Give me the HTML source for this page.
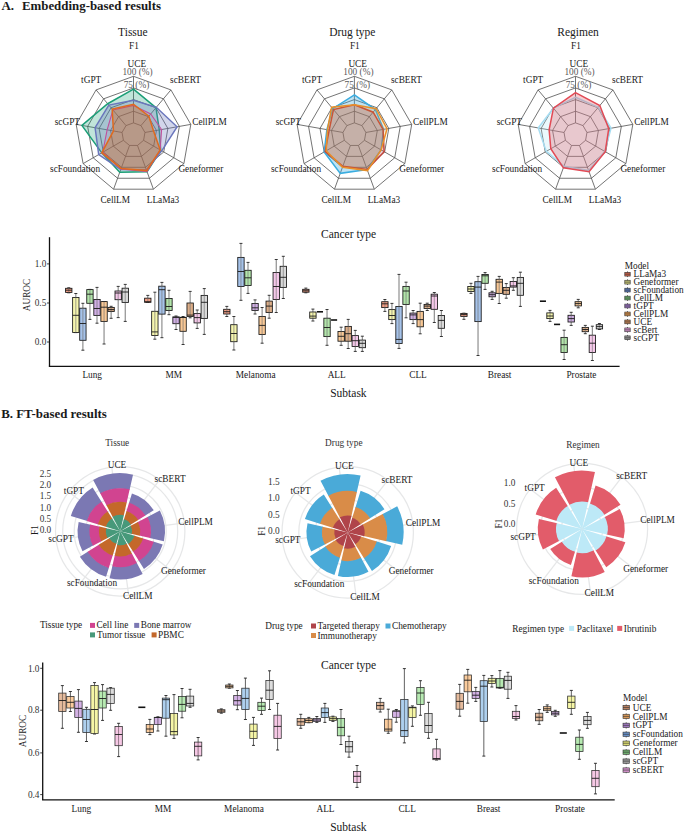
<!DOCTYPE html>
<html><head><meta charset="utf-8"><title>Figure</title>
<style>html,body{margin:0;padding:0;background:#fff;}body{width:685px;height:832px;overflow:hidden;font-family:"Liberation Serif", serif;}svg{display:block;}</style>
</head><body>
<svg width="685" height="832" viewBox="0 0 685 832" font-family='"Liberation Serif", serif'><text x="1.50" y="9.60" font-size="12.9" text-anchor="start" font-weight="bold" fill="#1a1a1a" >A.</text>
<text x="21.90" y="9.60" font-size="12.9" text-anchor="start" font-weight="bold" fill="#1a1a1a" >Embedding-based results</text>
<text x="1.20" y="418.20" font-size="12.9" text-anchor="start" font-weight="bold" fill="#1a1a1a" >B. FT-based results</text>
<text x="132.90" y="35.90" font-size="11.5" text-anchor="middle" font-weight="normal" fill="#1a1a1a" >Tissue</text>
<text x="133.90" y="49.30" font-size="9.3" text-anchor="middle" font-weight="normal" fill="#1a1a1a" >F1</text>
<g stroke="#505050" stroke-width="0.8"><polygon points="133.50,122.86 140.98,125.58 144.96,132.48 143.58,140.32 137.48,145.44 129.52,145.44 123.42,140.32 122.04,132.48 126.02,125.58" fill="none"/><polygon points="133.50,111.22 148.46,116.67 156.43,130.46 153.66,146.14 141.46,156.38 125.54,156.38 113.34,146.14 110.57,130.46 118.54,116.67" fill="none"/><polygon points="133.50,99.58 155.95,107.75 167.89,128.44 163.74,151.96 145.44,167.31 121.56,167.31 103.26,151.96 99.11,128.44 111.05,107.75" fill="none"/><polygon points="133.50,87.94 163.43,98.83 179.35,126.41 173.82,157.78 149.42,178.25 117.58,178.25 93.18,157.78 87.65,126.41 103.57,98.83" fill="none"/><polygon points="133.50,76.30 170.91,89.92 190.82,124.39 183.90,163.60 153.41,189.19 113.59,189.19 83.10,163.60 76.18,124.39 96.09,89.92" fill="none"/><line x1="133.50" y1="122.86" x2="133.50" y2="76.30"/><line x1="140.98" y1="125.58" x2="170.91" y2="89.92"/><line x1="144.96" y1="132.48" x2="190.82" y2="124.39"/><line x1="143.58" y1="140.32" x2="183.90" y2="163.60"/><line x1="137.48" y1="145.44" x2="153.41" y2="189.19"/><line x1="129.52" y1="145.44" x2="113.59" y2="189.19"/><line x1="123.42" y1="140.32" x2="83.10" y2="163.60"/><line x1="122.04" y1="132.48" x2="76.18" y2="124.39"/><line x1="126.02" y1="125.58" x2="96.09" y2="89.92"/></g>
<text x="137.50" y="74.70" font-size="9.3" text-anchor="middle" font-weight="normal" fill="#5a5a5a" >100 (%)</text>
<text x="136.50" y="87.50" font-size="9.3" text-anchor="middle" font-weight="normal" fill="#5a5a5a" >75 (%)</text>
<polygon points="133.50,89.10 155.95,107.75 159.29,129.95 160.72,150.21 147.04,171.69 119.77,172.24 101.75,152.83 81.92,125.40 107.69,103.74" fill="#1B9E77" fill-opacity="0.27" stroke="#1B9E77" stroke-width="1.5" stroke-linejoin="miter"/>
<polygon points="133.50,100.16 156.32,107.30 177.06,126.82 161.73,150.80 146.44,170.05 120.76,169.50 98.72,154.58 95.10,127.73 108.81,105.07" fill="#6A76BC" fill-opacity="0.3" stroke="#6A76BC" stroke-width="1.5" stroke-linejoin="miter"/>
<polygon points="133.50,105.40 150.71,113.99 161.58,129.55 160.21,149.92 147.04,171.69 120.96,168.95 102.75,152.25 107.13,129.85 112.92,109.98" fill="#C0509C" fill-opacity="0.12" stroke="#C0509C" stroke-width="1.1" stroke-linejoin="miter"/>
<polygon points="133.50,104.24 148.84,116.22 153.56,130.96 160.21,149.92 146.64,170.60 121.16,168.41 101.75,152.83 113.44,130.96 112.18,109.09" fill="#D95F02" fill-opacity="0.33" stroke="#DF6A1E" stroke-width="1.5" stroke-linejoin="miter"/>
<text x="136.80" y="66.50" font-size="9.3" text-anchor="middle" font-weight="normal" fill="#1a1a1a" >UCE</text>
<text x="185.50" y="82.80" font-size="9.3" text-anchor="middle" font-weight="normal" fill="#1a1a1a" >scBERT</text>
<text x="209.50" y="124.80" font-size="9.3" text-anchor="middle" font-weight="normal" fill="#1a1a1a" >CellPLM</text>
<text x="200.85" y="172.20" font-size="9.3" text-anchor="middle" font-weight="normal" fill="#1a1a1a" >Geneformer</text>
<text x="163.00" y="202.70" font-size="9.3" text-anchor="middle" font-weight="normal" fill="#1a1a1a" >LLaMa3</text>
<text x="115.30" y="202.70" font-size="9.3" text-anchor="middle" font-weight="normal" fill="#1a1a1a" >CellLM</text>
<text x="75.10" y="172.20" font-size="9.3" text-anchor="middle" font-weight="normal" fill="#1a1a1a" >scFoundation</text>
<text x="67.40" y="124.50" font-size="9.3" text-anchor="middle" font-weight="normal" fill="#1a1a1a" >scGPT</text>
<text x="91.20" y="82.90" font-size="9.3" text-anchor="middle" font-weight="normal" fill="#1a1a1a" >tGPT</text>
<text x="352.30" y="35.90" font-size="11.5" text-anchor="middle" font-weight="normal" fill="#1a1a1a" >Drug type</text>
<text x="354.80" y="49.30" font-size="9.3" text-anchor="middle" font-weight="normal" fill="#1a1a1a" >F1</text>
<g stroke="#505050" stroke-width="0.8"><polygon points="354.40,122.86 361.88,125.58 365.86,132.48 364.48,140.32 358.38,145.44 350.42,145.44 344.32,140.32 342.94,132.48 346.92,125.58" fill="none"/><polygon points="354.40,111.22 369.36,116.67 377.33,130.46 374.56,146.14 362.36,156.38 346.44,156.38 334.24,146.14 331.47,130.46 339.44,116.67" fill="none"/><polygon points="354.40,99.58 376.85,107.75 388.79,128.44 384.64,151.96 366.34,167.31 342.46,167.31 324.16,151.96 320.01,128.44 331.95,107.75" fill="none"/><polygon points="354.40,87.94 384.33,98.83 400.25,126.41 394.72,157.78 370.32,178.25 338.48,178.25 314.08,157.78 308.55,126.41 324.47,98.83" fill="none"/><polygon points="354.40,76.30 391.81,89.92 411.72,124.39 404.80,163.60 374.31,189.19 334.49,189.19 304.00,163.60 297.08,124.39 316.99,89.92" fill="none"/><line x1="354.40" y1="122.86" x2="354.40" y2="76.30"/><line x1="361.88" y1="125.58" x2="391.81" y2="89.92"/><line x1="365.86" y1="132.48" x2="411.72" y2="124.39"/><line x1="364.48" y1="140.32" x2="404.80" y2="163.60"/><line x1="358.38" y1="145.44" x2="374.31" y2="189.19"/><line x1="350.42" y1="145.44" x2="334.49" y2="189.19"/><line x1="344.32" y1="140.32" x2="304.00" y2="163.60"/><line x1="342.94" y1="132.48" x2="297.08" y2="124.39"/><line x1="346.92" y1="125.58" x2="316.99" y2="89.92"/></g>
<text x="358.40" y="74.70" font-size="9.3" text-anchor="middle" font-weight="normal" fill="#5a5a5a" >100 (%)</text>
<text x="357.40" y="87.50" font-size="9.3" text-anchor="middle" font-weight="normal" fill="#5a5a5a" >75 (%)</text>
<polygon points="354.40,94.92 375.35,109.53 383.63,129.35 381.11,149.92 367.14,169.50 340.27,173.33 324.16,151.96 326.89,129.65 332.70,108.64" fill="#3AA8DC" fill-opacity="0.33" stroke="#3AADE0" stroke-width="1.5" stroke-linejoin="miter"/>
<polygon points="354.40,104.82 373.11,112.21 383.06,129.45 384.14,151.67 367.14,169.50 342.85,166.22 325.17,151.38 329.18,130.05 333.45,109.53" fill="#B2182B" fill-opacity="0.2" stroke="#C0443A" stroke-width="1.5" stroke-linejoin="miter"/>
<polygon points="354.40,104.82 376.10,108.64 387.07,128.74 381.11,149.92 367.54,170.60 342.46,167.31 326.17,150.80 327.46,129.75 331.58,107.30" fill="#E6912E" fill-opacity="0.22" stroke="#E8902A" stroke-width="1.5" stroke-linejoin="miter"/>
<text x="357.70" y="66.50" font-size="9.3" text-anchor="middle" font-weight="normal" fill="#1a1a1a" >UCE</text>
<text x="406.40" y="82.80" font-size="9.3" text-anchor="middle" font-weight="normal" fill="#1a1a1a" >scBERT</text>
<text x="430.40" y="124.80" font-size="9.3" text-anchor="middle" font-weight="normal" fill="#1a1a1a" >CellPLM</text>
<text x="421.75" y="172.20" font-size="9.3" text-anchor="middle" font-weight="normal" fill="#1a1a1a" >Geneformer</text>
<text x="383.90" y="202.70" font-size="9.3" text-anchor="middle" font-weight="normal" fill="#1a1a1a" >LLaMa3</text>
<text x="336.20" y="202.70" font-size="9.3" text-anchor="middle" font-weight="normal" fill="#1a1a1a" >CellLM</text>
<text x="296.00" y="172.20" font-size="9.3" text-anchor="middle" font-weight="normal" fill="#1a1a1a" >scFoundation</text>
<text x="288.30" y="124.50" font-size="9.3" text-anchor="middle" font-weight="normal" fill="#1a1a1a" >scGPT</text>
<text x="312.10" y="82.90" font-size="9.3" text-anchor="middle" font-weight="normal" fill="#1a1a1a" >tGPT</text>
<text x="578.00" y="35.90" font-size="11.5" text-anchor="middle" font-weight="normal" fill="#1a1a1a" >Regimen</text>
<text x="575.90" y="49.30" font-size="9.3" text-anchor="middle" font-weight="normal" fill="#1a1a1a" >F1</text>
<g stroke="#505050" stroke-width="0.8"><polygon points="575.50,122.86 582.98,125.58 586.96,132.48 585.58,140.32 579.48,145.44 571.52,145.44 565.42,140.32 564.04,132.48 568.02,125.58" fill="none"/><polygon points="575.50,111.22 590.46,116.67 598.43,130.46 595.66,146.14 583.46,156.38 567.54,156.38 555.34,146.14 552.57,130.46 560.54,116.67" fill="none"/><polygon points="575.50,99.58 597.95,107.75 609.89,128.44 605.74,151.96 587.44,167.31 563.56,167.31 545.26,151.96 541.11,128.44 553.05,107.75" fill="none"/><polygon points="575.50,87.94 605.43,98.83 621.35,126.41 615.82,157.78 591.42,178.25 559.58,178.25 535.18,157.78 529.65,126.41 545.57,98.83" fill="none"/><polygon points="575.50,76.30 612.91,89.92 632.82,124.39 625.90,163.60 595.41,189.19 555.59,189.19 525.10,163.60 518.18,124.39 538.09,89.92" fill="none"/><line x1="575.50" y1="122.86" x2="575.50" y2="76.30"/><line x1="582.98" y1="125.58" x2="612.91" y2="89.92"/><line x1="586.96" y1="132.48" x2="632.82" y2="124.39"/><line x1="585.58" y1="140.32" x2="625.90" y2="163.60"/><line x1="579.48" y1="145.44" x2="595.41" y2="189.19"/><line x1="571.52" y1="145.44" x2="555.59" y2="189.19"/><line x1="565.42" y1="140.32" x2="525.10" y2="163.60"/><line x1="564.04" y1="132.48" x2="518.18" y2="124.39"/><line x1="568.02" y1="125.58" x2="538.09" y2="89.92"/></g>
<text x="579.50" y="74.70" font-size="9.3" text-anchor="middle" font-weight="normal" fill="#5a5a5a" >100 (%)</text>
<text x="578.50" y="87.50" font-size="9.3" text-anchor="middle" font-weight="normal" fill="#5a5a5a" >75 (%)</text>
<polygon points="575.50,97.25 598.32,107.30 611.04,128.23 604.73,151.38 588.64,170.60 563.95,166.22 546.27,151.38 538.24,127.93 553.43,108.20" fill="#A6DDF2" fill-opacity="0.22" stroke="#A6DDF2" stroke-width="1.5" stroke-linejoin="miter"/>
<polygon points="575.50,92.60 599.82,105.52 608.74,128.64 605.24,151.67 589.04,171.69 563.36,167.86 550.80,148.76 549.13,129.85 553.43,108.20" fill="#E24A55" fill-opacity="0.28" stroke="#E24A55" stroke-width="1.5" stroke-linejoin="miter"/>
<text x="578.80" y="66.50" font-size="9.3" text-anchor="middle" font-weight="normal" fill="#1a1a1a" >UCE</text>
<text x="627.50" y="82.80" font-size="9.3" text-anchor="middle" font-weight="normal" fill="#1a1a1a" >scBERT</text>
<text x="651.50" y="124.80" font-size="9.3" text-anchor="middle" font-weight="normal" fill="#1a1a1a" >CellPLM</text>
<text x="642.85" y="172.20" font-size="9.3" text-anchor="middle" font-weight="normal" fill="#1a1a1a" >Geneformer</text>
<text x="605.00" y="202.70" font-size="9.3" text-anchor="middle" font-weight="normal" fill="#1a1a1a" >LLaMa3</text>
<text x="557.30" y="202.70" font-size="9.3" text-anchor="middle" font-weight="normal" fill="#1a1a1a" >CellLM</text>
<text x="517.10" y="172.20" font-size="9.3" text-anchor="middle" font-weight="normal" fill="#1a1a1a" >scFoundation</text>
<text x="509.40" y="124.50" font-size="9.3" text-anchor="middle" font-weight="normal" fill="#1a1a1a" >scGPT</text>
<text x="533.20" y="82.90" font-size="9.3" text-anchor="middle" font-weight="normal" fill="#1a1a1a" >tGPT</text>
<line x1="49.50" y1="237.20" x2="49.50" y2="366.40" stroke="#111" stroke-width="1.3"/>
<line x1="48.85" y1="366.40" x2="619.60" y2="366.40" stroke="#111" stroke-width="1.3"/>
<line x1="47.00" y1="263.90" x2="49.50" y2="263.90" stroke="#111" stroke-width="0.8"/>
<text x="46.30" y="267.10" font-size="9.3" text-anchor="end" font-weight="normal" fill="#333" >1.0</text>
<line x1="47.00" y1="303.00" x2="49.50" y2="303.00" stroke="#111" stroke-width="0.8"/>
<text x="46.30" y="306.20" font-size="9.3" text-anchor="end" font-weight="normal" fill="#333" >0.5</text>
<line x1="47.00" y1="342.00" x2="49.50" y2="342.00" stroke="#111" stroke-width="0.8"/>
<text x="46.30" y="345.20" font-size="9.3" text-anchor="end" font-weight="normal" fill="#333" >0.0</text>
<text x="92.20" y="378.40" font-size="9.3" text-anchor="middle" font-weight="normal" fill="#1a1a1a" >Lung</text>
<text x="173.80" y="378.40" font-size="9.3" text-anchor="middle" font-weight="normal" fill="#1a1a1a" >MM</text>
<text x="255.70" y="378.40" font-size="9.3" text-anchor="middle" font-weight="normal" fill="#1a1a1a" >Melanoma</text>
<text x="336.70" y="378.40" font-size="9.3" text-anchor="middle" font-weight="normal" fill="#1a1a1a" >ALL</text>
<text x="418.00" y="378.40" font-size="9.3" text-anchor="middle" font-weight="normal" fill="#1a1a1a" >CLL</text>
<text x="499.60" y="378.40" font-size="9.3" text-anchor="middle" font-weight="normal" fill="#1a1a1a" >Breast</text>
<text x="581.40" y="378.40" font-size="9.3" text-anchor="middle" font-weight="normal" fill="#1a1a1a" >Prostate</text>
<text x="348.60" y="238.40" font-size="11.5" text-anchor="middle" font-weight="normal" fill="#1a1a1a" >Cancer type</text>
<text x="348.40" y="397.30" font-size="11.5" text-anchor="middle" font-weight="normal" fill="#1a1a1a" >Subtask</text>
<text x="30.30" y="295.00" font-size="9.3" text-anchor="middle" font-weight="normal" fill="#1a1a1a" transform="rotate(-90 30.30 295.00)">AUROC</text>
<line x1="68.76" y1="287.80" x2="68.76" y2="292.80" stroke="#858585" stroke-width="1.1"/>
<line x1="67.26" y1="287.80" x2="70.26" y2="287.80" stroke="#222" stroke-width="0.9"/>
<line x1="67.26" y1="292.80" x2="70.26" y2="292.80" stroke="#222" stroke-width="0.9"/>
<rect x="65.58" y="288.30" width="6.36" height="4.10" fill="#F08C6E" fill-opacity="0.85" stroke="#151515" stroke-width="0.85"/>
<line x1="68.76" y1="288.30" x2="68.76" y2="292.40" stroke="#858585" stroke-width="0.8800000000000001" opacity="0.75"/>
<line x1="65.58" y1="290.20" x2="71.94" y2="290.20" stroke="#1a1a1a" stroke-width="0.9"/>
<line x1="75.82" y1="293.50" x2="75.82" y2="332.60" stroke="#858585" stroke-width="1.1"/>
<line x1="74.32" y1="293.50" x2="77.32" y2="293.50" stroke="#222" stroke-width="0.9"/>
<line x1="74.32" y1="332.60" x2="77.32" y2="332.60" stroke="#222" stroke-width="0.9"/>
<rect x="72.64" y="297.50" width="6.36" height="35.00" fill="#F5F5A0" fill-opacity="0.85" stroke="#151515" stroke-width="0.85"/>
<line x1="75.82" y1="297.50" x2="75.82" y2="332.50" stroke="#858585" stroke-width="0.8800000000000001" opacity="0.75"/>
<line x1="72.64" y1="315.30" x2="79.00" y2="315.30" stroke="#1a1a1a" stroke-width="0.9"/>
<line x1="82.88" y1="303.30" x2="82.88" y2="350.20" stroke="#858585" stroke-width="1.1"/>
<line x1="81.38" y1="303.30" x2="84.38" y2="303.30" stroke="#222" stroke-width="0.9"/>
<line x1="81.38" y1="350.20" x2="84.38" y2="350.20" stroke="#222" stroke-width="0.9"/>
<rect x="79.70" y="308.20" width="6.36" height="32.10" fill="#96B9E6" fill-opacity="0.85" stroke="#151515" stroke-width="0.85"/>
<line x1="82.88" y1="308.20" x2="82.88" y2="340.30" stroke="#858585" stroke-width="0.8800000000000001" opacity="0.75"/>
<line x1="79.70" y1="323.50" x2="86.06" y2="323.50" stroke="#1a1a1a" stroke-width="0.9"/>
<line x1="89.94" y1="289.40" x2="89.94" y2="319.40" stroke="#858585" stroke-width="1.1"/>
<line x1="88.44" y1="289.40" x2="91.44" y2="289.40" stroke="#222" stroke-width="0.9"/>
<line x1="88.44" y1="319.40" x2="91.44" y2="319.40" stroke="#222" stroke-width="0.9"/>
<rect x="86.76" y="289.60" width="6.36" height="13.70" fill="#A5E19B" fill-opacity="0.85" stroke="#151515" stroke-width="0.85"/>
<line x1="89.94" y1="289.60" x2="89.94" y2="303.30" stroke="#858585" stroke-width="0.8800000000000001" opacity="0.75"/>
<line x1="86.76" y1="294.20" x2="93.12" y2="294.20" stroke="#1a1a1a" stroke-width="0.9"/>
<line x1="97.00" y1="287.40" x2="97.00" y2="323.20" stroke="#858585" stroke-width="1.1"/>
<line x1="95.50" y1="287.40" x2="98.50" y2="287.40" stroke="#222" stroke-width="0.9"/>
<line x1="95.50" y1="323.20" x2="98.50" y2="323.20" stroke="#222" stroke-width="0.9"/>
<rect x="93.82" y="299.50" width="6.36" height="15.90" fill="#C8A0E1" fill-opacity="0.85" stroke="#151515" stroke-width="0.85"/>
<line x1="97.00" y1="299.50" x2="97.00" y2="315.40" stroke="#858585" stroke-width="0.8800000000000001" opacity="0.75"/>
<line x1="93.82" y1="308.50" x2="100.18" y2="308.50" stroke="#1a1a1a" stroke-width="0.9"/>
<line x1="104.06" y1="301.50" x2="104.06" y2="344.00" stroke="#858585" stroke-width="1.1"/>
<line x1="102.56" y1="301.50" x2="105.56" y2="301.50" stroke="#222" stroke-width="0.9"/>
<line x1="102.56" y1="344.00" x2="105.56" y2="344.00" stroke="#222" stroke-width="0.9"/>
<rect x="100.88" y="301.60" width="6.36" height="19.80" fill="#F8BE82" fill-opacity="0.85" stroke="#151515" stroke-width="0.85"/>
<line x1="104.06" y1="301.60" x2="104.06" y2="321.40" stroke="#858585" stroke-width="0.8800000000000001" opacity="0.75"/>
<line x1="100.88" y1="307.20" x2="107.24" y2="307.20" stroke="#1a1a1a" stroke-width="0.9"/>
<line x1="111.12" y1="306.30" x2="111.12" y2="318.30" stroke="#858585" stroke-width="1.1"/>
<line x1="109.62" y1="306.30" x2="112.62" y2="306.30" stroke="#222" stroke-width="0.9"/>
<line x1="109.62" y1="318.30" x2="112.62" y2="318.30" stroke="#222" stroke-width="0.9"/>
<rect x="107.94" y="307.40" width="6.36" height="4.10" fill="#D7A073" fill-opacity="0.85" stroke="#151515" stroke-width="0.85"/>
<line x1="111.12" y1="307.40" x2="111.12" y2="311.50" stroke="#858585" stroke-width="0.8800000000000001" opacity="0.75"/>
<line x1="107.94" y1="309.60" x2="114.30" y2="309.60" stroke="#1a1a1a" stroke-width="0.9"/>
<line x1="118.18" y1="286.40" x2="118.18" y2="317.60" stroke="#858585" stroke-width="1.1"/>
<line x1="116.68" y1="286.40" x2="119.68" y2="286.40" stroke="#222" stroke-width="0.9"/>
<line x1="116.68" y1="317.60" x2="119.68" y2="317.60" stroke="#222" stroke-width="0.9"/>
<rect x="115.00" y="291.00" width="6.36" height="8.70" fill="#F5BEE6" fill-opacity="0.85" stroke="#151515" stroke-width="0.85"/>
<line x1="118.18" y1="291.00" x2="118.18" y2="299.70" stroke="#858585" stroke-width="0.8800000000000001" opacity="0.75"/>
<line x1="115.00" y1="293.00" x2="121.36" y2="293.00" stroke="#1a1a1a" stroke-width="0.9"/>
<line x1="125.24" y1="284.40" x2="125.24" y2="321.40" stroke="#858585" stroke-width="1.1"/>
<line x1="123.74" y1="284.40" x2="126.74" y2="284.40" stroke="#222" stroke-width="0.9"/>
<line x1="123.74" y1="321.40" x2="126.74" y2="321.40" stroke="#222" stroke-width="0.9"/>
<rect x="122.06" y="288.20" width="6.36" height="14.20" fill="#D2D2D2" fill-opacity="0.85" stroke="#151515" stroke-width="0.85"/>
<line x1="125.24" y1="288.20" x2="125.24" y2="302.40" stroke="#858585" stroke-width="0.8800000000000001" opacity="0.75"/>
<line x1="122.06" y1="292.00" x2="128.42" y2="292.00" stroke="#1a1a1a" stroke-width="0.9"/>
<line x1="147.79" y1="295.40" x2="147.79" y2="302.50" stroke="#858585" stroke-width="1.1"/>
<line x1="146.29" y1="295.40" x2="149.29" y2="295.40" stroke="#222" stroke-width="0.9"/>
<line x1="146.29" y1="302.50" x2="149.29" y2="302.50" stroke="#222" stroke-width="0.9"/>
<rect x="144.61" y="298.20" width="6.36" height="4.10" fill="#F08C6E" fill-opacity="0.85" stroke="#151515" stroke-width="0.85"/>
<line x1="147.79" y1="298.20" x2="147.79" y2="302.30" stroke="#858585" stroke-width="0.8800000000000001" opacity="0.75"/>
<line x1="144.61" y1="301.70" x2="150.97" y2="301.70" stroke="#1a1a1a" stroke-width="0.9"/>
<line x1="154.85" y1="292.20" x2="154.85" y2="339.20" stroke="#858585" stroke-width="1.1"/>
<line x1="153.35" y1="292.20" x2="156.35" y2="292.20" stroke="#222" stroke-width="0.9"/>
<line x1="153.35" y1="339.20" x2="156.35" y2="339.20" stroke="#222" stroke-width="0.9"/>
<rect x="151.67" y="311.30" width="6.36" height="24.20" fill="#F5F5A0" fill-opacity="0.85" stroke="#151515" stroke-width="0.85"/>
<line x1="154.85" y1="311.30" x2="154.85" y2="335.50" stroke="#858585" stroke-width="0.8800000000000001" opacity="0.75"/>
<line x1="151.67" y1="331.90" x2="158.03" y2="331.90" stroke="#1a1a1a" stroke-width="0.9"/>
<line x1="161.91" y1="282.40" x2="161.91" y2="337.70" stroke="#858585" stroke-width="1.1"/>
<line x1="160.41" y1="282.40" x2="163.41" y2="282.40" stroke="#222" stroke-width="0.9"/>
<line x1="160.41" y1="337.70" x2="163.41" y2="337.70" stroke="#222" stroke-width="0.9"/>
<rect x="158.73" y="286.20" width="6.36" height="27.90" fill="#96B9E6" fill-opacity="0.85" stroke="#151515" stroke-width="0.85"/>
<line x1="161.91" y1="286.20" x2="161.91" y2="314.10" stroke="#858585" stroke-width="0.8800000000000001" opacity="0.75"/>
<line x1="158.73" y1="289.70" x2="165.09" y2="289.70" stroke="#1a1a1a" stroke-width="0.9"/>
<line x1="168.97" y1="290.30" x2="168.97" y2="314.70" stroke="#858585" stroke-width="1.1"/>
<line x1="167.47" y1="290.30" x2="170.47" y2="290.30" stroke="#222" stroke-width="0.9"/>
<line x1="167.47" y1="314.70" x2="170.47" y2="314.70" stroke="#222" stroke-width="0.9"/>
<rect x="165.79" y="298.50" width="6.36" height="12.00" fill="#A5E19B" fill-opacity="0.85" stroke="#151515" stroke-width="0.85"/>
<line x1="168.97" y1="298.50" x2="168.97" y2="310.50" stroke="#858585" stroke-width="0.8800000000000001" opacity="0.75"/>
<line x1="165.79" y1="306.50" x2="172.15" y2="306.50" stroke="#1a1a1a" stroke-width="0.9"/>
<line x1="176.03" y1="316.00" x2="176.03" y2="329.50" stroke="#858585" stroke-width="1.1"/>
<line x1="174.53" y1="316.00" x2="177.53" y2="316.00" stroke="#222" stroke-width="0.9"/>
<line x1="174.53" y1="329.50" x2="177.53" y2="329.50" stroke="#222" stroke-width="0.9"/>
<rect x="172.85" y="316.90" width="6.36" height="6.80" fill="#C8A0E1" fill-opacity="0.85" stroke="#151515" stroke-width="0.85"/>
<line x1="176.03" y1="316.90" x2="176.03" y2="323.70" stroke="#858585" stroke-width="0.8800000000000001" opacity="0.75"/>
<line x1="172.85" y1="317.40" x2="179.21" y2="317.40" stroke="#1a1a1a" stroke-width="0.9"/>
<line x1="183.09" y1="316.50" x2="183.09" y2="344.50" stroke="#858585" stroke-width="1.1"/>
<line x1="181.59" y1="316.50" x2="184.59" y2="316.50" stroke="#222" stroke-width="0.9"/>
<line x1="181.59" y1="344.50" x2="184.59" y2="344.50" stroke="#222" stroke-width="0.9"/>
<rect x="179.91" y="317.40" width="6.36" height="13.90" fill="#F8BE82" fill-opacity="0.85" stroke="#151515" stroke-width="0.85"/>
<line x1="183.09" y1="317.40" x2="183.09" y2="331.30" stroke="#858585" stroke-width="0.8800000000000001" opacity="0.75"/>
<line x1="179.91" y1="317.40" x2="186.27" y2="317.40" stroke="#1a1a1a" stroke-width="0.9"/>
<line x1="190.15" y1="291.40" x2="190.15" y2="317.80" stroke="#858585" stroke-width="1.1"/>
<line x1="188.65" y1="291.40" x2="191.65" y2="291.40" stroke="#222" stroke-width="0.9"/>
<line x1="188.65" y1="317.80" x2="191.65" y2="317.80" stroke="#222" stroke-width="0.9"/>
<rect x="186.97" y="303.00" width="6.36" height="13.50" fill="#D7A073" fill-opacity="0.85" stroke="#151515" stroke-width="0.85"/>
<line x1="190.15" y1="303.00" x2="190.15" y2="316.50" stroke="#858585" stroke-width="0.8800000000000001" opacity="0.75"/>
<line x1="186.97" y1="315.10" x2="193.33" y2="315.10" stroke="#1a1a1a" stroke-width="0.9"/>
<line x1="197.21" y1="310.00" x2="197.21" y2="328.40" stroke="#858585" stroke-width="1.1"/>
<line x1="195.71" y1="310.00" x2="198.71" y2="310.00" stroke="#222" stroke-width="0.9"/>
<line x1="195.71" y1="328.40" x2="198.71" y2="328.40" stroke="#222" stroke-width="0.9"/>
<rect x="194.03" y="313.60" width="6.36" height="9.30" fill="#F5BEE6" fill-opacity="0.85" stroke="#151515" stroke-width="0.85"/>
<line x1="197.21" y1="313.60" x2="197.21" y2="322.90" stroke="#858585" stroke-width="0.8800000000000001" opacity="0.75"/>
<line x1="194.03" y1="317.60" x2="200.39" y2="317.60" stroke="#1a1a1a" stroke-width="0.9"/>
<line x1="204.27" y1="288.60" x2="204.27" y2="334.40" stroke="#858585" stroke-width="1.1"/>
<line x1="202.77" y1="288.60" x2="205.77" y2="288.60" stroke="#222" stroke-width="0.9"/>
<line x1="202.77" y1="334.40" x2="205.77" y2="334.40" stroke="#222" stroke-width="0.9"/>
<rect x="201.09" y="295.40" width="6.36" height="23.00" fill="#D2D2D2" fill-opacity="0.85" stroke="#151515" stroke-width="0.85"/>
<line x1="204.27" y1="295.40" x2="204.27" y2="318.40" stroke="#858585" stroke-width="0.8800000000000001" opacity="0.75"/>
<line x1="201.09" y1="302.30" x2="207.45" y2="302.30" stroke="#1a1a1a" stroke-width="0.9"/>
<line x1="226.82" y1="306.40" x2="226.82" y2="316.50" stroke="#858585" stroke-width="1.1"/>
<line x1="225.32" y1="306.40" x2="228.32" y2="306.40" stroke="#222" stroke-width="0.9"/>
<line x1="225.32" y1="316.50" x2="228.32" y2="316.50" stroke="#222" stroke-width="0.9"/>
<rect x="223.64" y="309.30" width="6.36" height="4.70" fill="#F08C6E" fill-opacity="0.85" stroke="#151515" stroke-width="0.85"/>
<line x1="226.82" y1="309.30" x2="226.82" y2="314.00" stroke="#858585" stroke-width="0.8800000000000001" opacity="0.75"/>
<line x1="223.64" y1="311.70" x2="230.00" y2="311.70" stroke="#1a1a1a" stroke-width="0.9"/>
<line x1="233.88" y1="316.50" x2="233.88" y2="350.00" stroke="#858585" stroke-width="1.1"/>
<line x1="232.38" y1="316.50" x2="235.38" y2="316.50" stroke="#222" stroke-width="0.9"/>
<line x1="232.38" y1="350.00" x2="235.38" y2="350.00" stroke="#222" stroke-width="0.9"/>
<rect x="230.70" y="324.70" width="6.36" height="17.00" fill="#F5F5A0" fill-opacity="0.85" stroke="#151515" stroke-width="0.85"/>
<line x1="233.88" y1="324.70" x2="233.88" y2="341.70" stroke="#858585" stroke-width="0.8800000000000001" opacity="0.75"/>
<line x1="230.70" y1="333.50" x2="237.06" y2="333.50" stroke="#1a1a1a" stroke-width="0.9"/>
<line x1="240.94" y1="243.40" x2="240.94" y2="300.30" stroke="#858585" stroke-width="1.1"/>
<line x1="239.44" y1="243.40" x2="242.44" y2="243.40" stroke="#222" stroke-width="0.9"/>
<line x1="239.44" y1="300.30" x2="242.44" y2="300.30" stroke="#222" stroke-width="0.9"/>
<rect x="237.76" y="257.40" width="6.36" height="29.10" fill="#96B9E6" fill-opacity="0.85" stroke="#151515" stroke-width="0.85"/>
<line x1="240.94" y1="257.40" x2="240.94" y2="286.50" stroke="#858585" stroke-width="0.8800000000000001" opacity="0.75"/>
<line x1="237.76" y1="271.50" x2="244.12" y2="271.50" stroke="#1a1a1a" stroke-width="0.9"/>
<line x1="248.00" y1="262.40" x2="248.00" y2="293.40" stroke="#858585" stroke-width="1.1"/>
<line x1="246.50" y1="262.40" x2="249.50" y2="262.40" stroke="#222" stroke-width="0.9"/>
<line x1="246.50" y1="293.40" x2="249.50" y2="293.40" stroke="#222" stroke-width="0.9"/>
<rect x="244.82" y="270.30" width="6.36" height="15.20" fill="#A5E19B" fill-opacity="0.85" stroke="#151515" stroke-width="0.85"/>
<line x1="248.00" y1="270.30" x2="248.00" y2="285.50" stroke="#858585" stroke-width="0.8800000000000001" opacity="0.75"/>
<line x1="244.82" y1="277.80" x2="251.18" y2="277.80" stroke="#1a1a1a" stroke-width="0.9"/>
<line x1="255.06" y1="299.90" x2="255.06" y2="314.00" stroke="#858585" stroke-width="1.1"/>
<line x1="253.56" y1="299.90" x2="256.56" y2="299.90" stroke="#222" stroke-width="0.9"/>
<line x1="253.56" y1="314.00" x2="256.56" y2="314.00" stroke="#222" stroke-width="0.9"/>
<rect x="251.88" y="303.50" width="6.36" height="6.90" fill="#C8A0E1" fill-opacity="0.85" stroke="#151515" stroke-width="0.85"/>
<line x1="255.06" y1="303.50" x2="255.06" y2="310.40" stroke="#858585" stroke-width="0.8800000000000001" opacity="0.75"/>
<line x1="251.88" y1="307.80" x2="258.24" y2="307.80" stroke="#1a1a1a" stroke-width="0.9"/>
<line x1="262.12" y1="307.50" x2="262.12" y2="343.20" stroke="#858585" stroke-width="1.1"/>
<line x1="260.62" y1="307.50" x2="263.62" y2="307.50" stroke="#222" stroke-width="0.9"/>
<line x1="260.62" y1="343.20" x2="263.62" y2="343.20" stroke="#222" stroke-width="0.9"/>
<rect x="258.94" y="316.50" width="6.36" height="18.00" fill="#F8BE82" fill-opacity="0.85" stroke="#151515" stroke-width="0.85"/>
<line x1="262.12" y1="316.50" x2="262.12" y2="334.50" stroke="#858585" stroke-width="0.8800000000000001" opacity="0.75"/>
<line x1="258.94" y1="325.40" x2="265.30" y2="325.40" stroke="#1a1a1a" stroke-width="0.9"/>
<line x1="269.18" y1="295.30" x2="269.18" y2="318.20" stroke="#858585" stroke-width="1.1"/>
<line x1="267.68" y1="295.30" x2="270.68" y2="295.30" stroke="#222" stroke-width="0.9"/>
<line x1="267.68" y1="318.20" x2="270.68" y2="318.20" stroke="#222" stroke-width="0.9"/>
<rect x="266.00" y="301.10" width="6.36" height="11.40" fill="#D7A073" fill-opacity="0.85" stroke="#151515" stroke-width="0.85"/>
<line x1="269.18" y1="301.10" x2="269.18" y2="312.50" stroke="#858585" stroke-width="0.8800000000000001" opacity="0.75"/>
<line x1="266.00" y1="306.10" x2="272.36" y2="306.10" stroke="#1a1a1a" stroke-width="0.9"/>
<line x1="276.24" y1="259.50" x2="276.24" y2="312.50" stroke="#858585" stroke-width="1.1"/>
<line x1="274.74" y1="259.50" x2="277.74" y2="259.50" stroke="#222" stroke-width="0.9"/>
<line x1="274.74" y1="312.50" x2="277.74" y2="312.50" stroke="#222" stroke-width="0.9"/>
<rect x="273.06" y="272.50" width="6.36" height="27.00" fill="#F5BEE6" fill-opacity="0.85" stroke="#151515" stroke-width="0.85"/>
<line x1="276.24" y1="272.50" x2="276.24" y2="299.50" stroke="#858585" stroke-width="0.8800000000000001" opacity="0.75"/>
<line x1="273.06" y1="286.50" x2="279.42" y2="286.50" stroke="#1a1a1a" stroke-width="0.9"/>
<line x1="283.30" y1="256.30" x2="283.30" y2="298.50" stroke="#858585" stroke-width="1.1"/>
<line x1="281.80" y1="256.30" x2="284.80" y2="256.30" stroke="#222" stroke-width="0.9"/>
<line x1="281.80" y1="298.50" x2="284.80" y2="298.50" stroke="#222" stroke-width="0.9"/>
<rect x="280.12" y="266.30" width="6.36" height="21.10" fill="#D2D2D2" fill-opacity="0.85" stroke="#151515" stroke-width="0.85"/>
<line x1="283.30" y1="266.30" x2="283.30" y2="287.40" stroke="#858585" stroke-width="0.8800000000000001" opacity="0.75"/>
<line x1="280.12" y1="277.30" x2="286.48" y2="277.30" stroke="#1a1a1a" stroke-width="0.9"/>
<line x1="305.85" y1="288.10" x2="305.85" y2="292.80" stroke="#858585" stroke-width="1.1"/>
<line x1="304.35" y1="288.10" x2="307.35" y2="288.10" stroke="#222" stroke-width="0.9"/>
<line x1="304.35" y1="292.80" x2="307.35" y2="292.80" stroke="#222" stroke-width="0.9"/>
<rect x="302.67" y="289.30" width="6.36" height="2.90" fill="#F08C6E" fill-opacity="0.85" stroke="#151515" stroke-width="0.85"/>
<line x1="305.85" y1="289.30" x2="305.85" y2="292.20" stroke="#858585" stroke-width="0.8800000000000001" opacity="0.75"/>
<line x1="302.67" y1="290.80" x2="309.03" y2="290.80" stroke="#1a1a1a" stroke-width="0.9"/>
<line x1="312.91" y1="309.10" x2="312.91" y2="321.00" stroke="#858585" stroke-width="1.1"/>
<line x1="311.41" y1="309.10" x2="314.41" y2="309.10" stroke="#222" stroke-width="0.9"/>
<line x1="311.41" y1="321.00" x2="314.41" y2="321.00" stroke="#222" stroke-width="0.9"/>
<rect x="309.73" y="312.00" width="6.36" height="6.20" fill="#F5F5A0" fill-opacity="0.85" stroke="#151515" stroke-width="0.85"/>
<line x1="312.91" y1="312.00" x2="312.91" y2="318.20" stroke="#858585" stroke-width="0.8800000000000001" opacity="0.75"/>
<line x1="309.73" y1="316.10" x2="316.09" y2="316.10" stroke="#1a1a1a" stroke-width="0.9"/>
<line x1="316.94" y1="311.80" x2="323.00" y2="311.80" stroke="#111" stroke-width="1.6"/>
<line x1="327.03" y1="309.50" x2="327.03" y2="345.30" stroke="#858585" stroke-width="1.1"/>
<line x1="325.53" y1="309.50" x2="328.53" y2="309.50" stroke="#222" stroke-width="0.9"/>
<line x1="325.53" y1="345.30" x2="328.53" y2="345.30" stroke="#222" stroke-width="0.9"/>
<rect x="323.85" y="318.20" width="6.36" height="18.40" fill="#A5E19B" fill-opacity="0.85" stroke="#151515" stroke-width="0.85"/>
<line x1="327.03" y1="318.20" x2="327.03" y2="336.60" stroke="#858585" stroke-width="0.8800000000000001" opacity="0.75"/>
<line x1="323.85" y1="327.50" x2="330.21" y2="327.50" stroke="#1a1a1a" stroke-width="0.9"/>
<line x1="331.06" y1="320.00" x2="337.12" y2="320.00" stroke="#111" stroke-width="1.6"/>
<line x1="341.15" y1="327.20" x2="341.15" y2="345.30" stroke="#858585" stroke-width="1.1"/>
<line x1="339.65" y1="327.20" x2="342.65" y2="327.20" stroke="#222" stroke-width="0.9"/>
<line x1="339.65" y1="345.30" x2="342.65" y2="345.30" stroke="#222" stroke-width="0.9"/>
<rect x="337.97" y="331.50" width="6.36" height="9.70" fill="#F8BE82" fill-opacity="0.85" stroke="#151515" stroke-width="0.85"/>
<line x1="341.15" y1="331.50" x2="341.15" y2="341.20" stroke="#858585" stroke-width="0.8800000000000001" opacity="0.75"/>
<line x1="337.97" y1="336.30" x2="344.33" y2="336.30" stroke="#1a1a1a" stroke-width="0.9"/>
<line x1="348.21" y1="319.40" x2="348.21" y2="348.50" stroke="#858585" stroke-width="1.1"/>
<line x1="346.71" y1="319.40" x2="349.71" y2="319.40" stroke="#222" stroke-width="0.9"/>
<line x1="346.71" y1="348.50" x2="349.71" y2="348.50" stroke="#222" stroke-width="0.9"/>
<rect x="345.03" y="326.40" width="6.36" height="14.80" fill="#D7A073" fill-opacity="0.85" stroke="#151515" stroke-width="0.85"/>
<line x1="348.21" y1="326.40" x2="348.21" y2="341.20" stroke="#858585" stroke-width="0.8800000000000001" opacity="0.75"/>
<line x1="345.03" y1="333.70" x2="351.39" y2="333.70" stroke="#1a1a1a" stroke-width="0.9"/>
<line x1="355.27" y1="330.40" x2="355.27" y2="351.40" stroke="#858585" stroke-width="1.1"/>
<line x1="353.77" y1="330.40" x2="356.77" y2="330.40" stroke="#222" stroke-width="0.9"/>
<line x1="353.77" y1="351.40" x2="356.77" y2="351.40" stroke="#222" stroke-width="0.9"/>
<rect x="352.09" y="335.60" width="6.36" height="10.90" fill="#F5BEE6" fill-opacity="0.85" stroke="#151515" stroke-width="0.85"/>
<line x1="355.27" y1="335.60" x2="355.27" y2="346.50" stroke="#858585" stroke-width="0.8800000000000001" opacity="0.75"/>
<line x1="352.09" y1="340.70" x2="358.45" y2="340.70" stroke="#1a1a1a" stroke-width="0.9"/>
<line x1="362.33" y1="336.20" x2="362.33" y2="351.40" stroke="#858585" stroke-width="1.1"/>
<line x1="360.83" y1="336.20" x2="363.83" y2="336.20" stroke="#222" stroke-width="0.9"/>
<line x1="360.83" y1="351.40" x2="363.83" y2="351.40" stroke="#222" stroke-width="0.9"/>
<rect x="359.15" y="340.10" width="6.36" height="7.60" fill="#D2D2D2" fill-opacity="0.85" stroke="#151515" stroke-width="0.85"/>
<line x1="362.33" y1="340.10" x2="362.33" y2="347.70" stroke="#858585" stroke-width="0.8800000000000001" opacity="0.75"/>
<line x1="359.15" y1="343.30" x2="365.51" y2="343.30" stroke="#1a1a1a" stroke-width="0.9"/>
<line x1="384.88" y1="299.50" x2="384.88" y2="311.40" stroke="#858585" stroke-width="1.1"/>
<line x1="383.38" y1="299.50" x2="386.38" y2="299.50" stroke="#222" stroke-width="0.9"/>
<line x1="383.38" y1="311.40" x2="386.38" y2="311.40" stroke="#222" stroke-width="0.9"/>
<rect x="381.70" y="301.70" width="6.36" height="5.90" fill="#F08C6E" fill-opacity="0.85" stroke="#151515" stroke-width="0.85"/>
<line x1="384.88" y1="301.70" x2="384.88" y2="307.60" stroke="#858585" stroke-width="0.8800000000000001" opacity="0.75"/>
<line x1="381.70" y1="303.80" x2="388.06" y2="303.80" stroke="#1a1a1a" stroke-width="0.9"/>
<line x1="391.94" y1="303.40" x2="391.94" y2="323.60" stroke="#858585" stroke-width="1.1"/>
<line x1="390.44" y1="303.40" x2="393.44" y2="303.40" stroke="#222" stroke-width="0.9"/>
<line x1="390.44" y1="323.60" x2="393.44" y2="323.60" stroke="#222" stroke-width="0.9"/>
<rect x="388.76" y="309.60" width="6.36" height="10.00" fill="#F5F5A0" fill-opacity="0.85" stroke="#151515" stroke-width="0.85"/>
<line x1="391.94" y1="309.60" x2="391.94" y2="319.60" stroke="#858585" stroke-width="0.8800000000000001" opacity="0.75"/>
<line x1="388.76" y1="315.50" x2="395.12" y2="315.50" stroke="#1a1a1a" stroke-width="0.9"/>
<line x1="399.00" y1="274.40" x2="399.00" y2="348.40" stroke="#858585" stroke-width="1.1"/>
<line x1="397.50" y1="274.40" x2="400.50" y2="274.40" stroke="#222" stroke-width="0.9"/>
<line x1="397.50" y1="348.40" x2="400.50" y2="348.40" stroke="#222" stroke-width="0.9"/>
<rect x="395.82" y="306.50" width="6.36" height="37.00" fill="#96B9E6" fill-opacity="0.85" stroke="#151515" stroke-width="0.85"/>
<line x1="399.00" y1="306.50" x2="399.00" y2="343.50" stroke="#858585" stroke-width="0.8800000000000001" opacity="0.75"/>
<line x1="395.82" y1="339.40" x2="402.18" y2="339.40" stroke="#1a1a1a" stroke-width="0.9"/>
<line x1="406.06" y1="282.20" x2="406.06" y2="317.80" stroke="#858585" stroke-width="1.1"/>
<line x1="404.56" y1="282.20" x2="407.56" y2="282.20" stroke="#222" stroke-width="0.9"/>
<line x1="404.56" y1="317.80" x2="407.56" y2="317.80" stroke="#222" stroke-width="0.9"/>
<rect x="402.88" y="286.40" width="6.36" height="18.00" fill="#A5E19B" fill-opacity="0.85" stroke="#151515" stroke-width="0.85"/>
<line x1="406.06" y1="286.40" x2="406.06" y2="304.40" stroke="#858585" stroke-width="0.8800000000000001" opacity="0.75"/>
<line x1="402.88" y1="291.00" x2="409.24" y2="291.00" stroke="#1a1a1a" stroke-width="0.9"/>
<line x1="413.12" y1="310.50" x2="413.12" y2="323.60" stroke="#858585" stroke-width="1.1"/>
<line x1="411.62" y1="310.50" x2="414.62" y2="310.50" stroke="#222" stroke-width="0.9"/>
<line x1="411.62" y1="323.60" x2="414.62" y2="323.60" stroke="#222" stroke-width="0.9"/>
<rect x="409.94" y="313.10" width="6.36" height="6.50" fill="#C8A0E1" fill-opacity="0.85" stroke="#151515" stroke-width="0.85"/>
<line x1="413.12" y1="313.10" x2="413.12" y2="319.60" stroke="#858585" stroke-width="0.8800000000000001" opacity="0.75"/>
<line x1="409.94" y1="314.90" x2="416.30" y2="314.90" stroke="#1a1a1a" stroke-width="0.9"/>
<line x1="420.18" y1="303.20" x2="420.18" y2="333.80" stroke="#858585" stroke-width="1.1"/>
<line x1="418.68" y1="303.20" x2="421.68" y2="303.20" stroke="#222" stroke-width="0.9"/>
<line x1="418.68" y1="333.80" x2="421.68" y2="333.80" stroke="#222" stroke-width="0.9"/>
<rect x="417.00" y="311.40" width="6.36" height="15.40" fill="#F8BE82" fill-opacity="0.85" stroke="#151515" stroke-width="0.85"/>
<line x1="420.18" y1="311.40" x2="420.18" y2="326.80" stroke="#858585" stroke-width="0.8800000000000001" opacity="0.75"/>
<line x1="417.00" y1="319.60" x2="423.36" y2="319.60" stroke="#1a1a1a" stroke-width="0.9"/>
<line x1="427.24" y1="303.20" x2="427.24" y2="310.50" stroke="#858585" stroke-width="1.1"/>
<line x1="425.74" y1="303.20" x2="428.74" y2="303.20" stroke="#222" stroke-width="0.9"/>
<line x1="425.74" y1="310.50" x2="428.74" y2="310.50" stroke="#222" stroke-width="0.9"/>
<rect x="424.06" y="304.40" width="6.36" height="4.10" fill="#D7A073" fill-opacity="0.85" stroke="#151515" stroke-width="0.85"/>
<line x1="427.24" y1="304.40" x2="427.24" y2="308.50" stroke="#858585" stroke-width="0.8800000000000001" opacity="0.75"/>
<line x1="424.06" y1="306.10" x2="430.42" y2="306.10" stroke="#1a1a1a" stroke-width="0.9"/>
<line x1="434.30" y1="292.50" x2="434.30" y2="322.50" stroke="#858585" stroke-width="1.1"/>
<line x1="432.80" y1="292.50" x2="435.80" y2="292.50" stroke="#222" stroke-width="0.9"/>
<line x1="432.80" y1="322.50" x2="435.80" y2="322.50" stroke="#222" stroke-width="0.9"/>
<rect x="431.12" y="294.20" width="6.36" height="15.10" fill="#F5BEE6" fill-opacity="0.85" stroke="#151515" stroke-width="0.85"/>
<line x1="434.30" y1="294.20" x2="434.30" y2="309.30" stroke="#858585" stroke-width="0.8800000000000001" opacity="0.75"/>
<line x1="431.12" y1="296.00" x2="437.48" y2="296.00" stroke="#1a1a1a" stroke-width="0.9"/>
<line x1="441.36" y1="310.50" x2="441.36" y2="336.50" stroke="#858585" stroke-width="1.1"/>
<line x1="439.86" y1="310.50" x2="442.86" y2="310.50" stroke="#222" stroke-width="0.9"/>
<line x1="439.86" y1="336.50" x2="442.86" y2="336.50" stroke="#222" stroke-width="0.9"/>
<rect x="438.18" y="315.50" width="6.36" height="12.80" fill="#D2D2D2" fill-opacity="0.85" stroke="#151515" stroke-width="0.85"/>
<line x1="441.36" y1="315.50" x2="441.36" y2="328.30" stroke="#858585" stroke-width="0.8800000000000001" opacity="0.75"/>
<line x1="438.18" y1="320.40" x2="444.54" y2="320.40" stroke="#1a1a1a" stroke-width="0.9"/>
<line x1="463.91" y1="313.20" x2="463.91" y2="319.30" stroke="#858585" stroke-width="1.1"/>
<line x1="462.41" y1="313.20" x2="465.41" y2="313.20" stroke="#222" stroke-width="0.9"/>
<line x1="462.41" y1="319.30" x2="465.41" y2="319.30" stroke="#222" stroke-width="0.9"/>
<rect x="460.73" y="313.40" width="6.36" height="3.00" fill="#F08C6E" fill-opacity="0.85" stroke="#151515" stroke-width="0.85"/>
<line x1="463.91" y1="313.40" x2="463.91" y2="316.40" stroke="#858585" stroke-width="0.8800000000000001" opacity="0.75"/>
<line x1="460.73" y1="314.60" x2="467.09" y2="314.60" stroke="#1a1a1a" stroke-width="0.9"/>
<line x1="470.97" y1="283.30" x2="470.97" y2="293.40" stroke="#858585" stroke-width="1.1"/>
<line x1="469.47" y1="283.30" x2="472.47" y2="283.30" stroke="#222" stroke-width="0.9"/>
<line x1="469.47" y1="293.40" x2="472.47" y2="293.40" stroke="#222" stroke-width="0.9"/>
<rect x="467.79" y="286.50" width="6.36" height="5.00" fill="#F5F5A0" fill-opacity="0.85" stroke="#151515" stroke-width="0.85"/>
<line x1="470.97" y1="286.50" x2="470.97" y2="291.50" stroke="#858585" stroke-width="0.8800000000000001" opacity="0.75"/>
<line x1="467.79" y1="289.00" x2="474.15" y2="289.00" stroke="#1a1a1a" stroke-width="0.9"/>
<line x1="478.03" y1="276.40" x2="478.03" y2="355.50" stroke="#858585" stroke-width="1.1"/>
<line x1="476.53" y1="276.40" x2="479.53" y2="276.40" stroke="#222" stroke-width="0.9"/>
<line x1="476.53" y1="355.50" x2="479.53" y2="355.50" stroke="#222" stroke-width="0.9"/>
<rect x="474.85" y="281.70" width="6.36" height="39.90" fill="#96B9E6" fill-opacity="0.85" stroke="#151515" stroke-width="0.85"/>
<line x1="478.03" y1="281.70" x2="478.03" y2="321.60" stroke="#858585" stroke-width="0.8800000000000001" opacity="0.75"/>
<line x1="474.85" y1="287.10" x2="481.21" y2="287.10" stroke="#1a1a1a" stroke-width="0.9"/>
<line x1="485.09" y1="272.60" x2="485.09" y2="289.40" stroke="#858585" stroke-width="1.1"/>
<line x1="483.59" y1="272.60" x2="486.59" y2="272.60" stroke="#222" stroke-width="0.9"/>
<line x1="483.59" y1="289.40" x2="486.59" y2="289.40" stroke="#222" stroke-width="0.9"/>
<rect x="481.91" y="274.50" width="6.36" height="8.80" fill="#A5E19B" fill-opacity="0.85" stroke="#151515" stroke-width="0.85"/>
<line x1="485.09" y1="274.50" x2="485.09" y2="283.30" stroke="#858585" stroke-width="0.8800000000000001" opacity="0.75"/>
<line x1="481.91" y1="275.80" x2="488.27" y2="275.80" stroke="#1a1a1a" stroke-width="0.9"/>
<line x1="492.15" y1="291.30" x2="492.15" y2="299.40" stroke="#858585" stroke-width="1.1"/>
<line x1="490.65" y1="291.30" x2="493.65" y2="291.30" stroke="#222" stroke-width="0.9"/>
<line x1="490.65" y1="299.40" x2="493.65" y2="299.40" stroke="#222" stroke-width="0.9"/>
<rect x="488.97" y="292.80" width="6.36" height="4.00" fill="#C8A0E1" fill-opacity="0.85" stroke="#151515" stroke-width="0.85"/>
<line x1="492.15" y1="292.80" x2="492.15" y2="296.80" stroke="#858585" stroke-width="0.8800000000000001" opacity="0.75"/>
<line x1="488.97" y1="294.70" x2="495.33" y2="294.70" stroke="#1a1a1a" stroke-width="0.9"/>
<line x1="499.21" y1="276.40" x2="499.21" y2="303.50" stroke="#858585" stroke-width="1.1"/>
<line x1="497.71" y1="276.40" x2="500.71" y2="276.40" stroke="#222" stroke-width="0.9"/>
<line x1="497.71" y1="303.50" x2="500.71" y2="303.50" stroke="#222" stroke-width="0.9"/>
<rect x="496.03" y="279.30" width="6.36" height="14.10" fill="#F8BE82" fill-opacity="0.85" stroke="#151515" stroke-width="0.85"/>
<line x1="499.21" y1="279.30" x2="499.21" y2="293.40" stroke="#858585" stroke-width="0.8800000000000001" opacity="0.75"/>
<line x1="496.03" y1="282.10" x2="502.39" y2="282.10" stroke="#1a1a1a" stroke-width="0.9"/>
<line x1="506.27" y1="283.60" x2="506.27" y2="298.20" stroke="#858585" stroke-width="1.1"/>
<line x1="504.77" y1="283.60" x2="507.77" y2="283.60" stroke="#222" stroke-width="0.9"/>
<line x1="504.77" y1="298.20" x2="507.77" y2="298.20" stroke="#222" stroke-width="0.9"/>
<rect x="503.09" y="287.50" width="6.36" height="6.80" fill="#D7A073" fill-opacity="0.85" stroke="#151515" stroke-width="0.85"/>
<line x1="506.27" y1="287.50" x2="506.27" y2="294.30" stroke="#858585" stroke-width="0.8800000000000001" opacity="0.75"/>
<line x1="503.09" y1="290.30" x2="509.45" y2="290.30" stroke="#1a1a1a" stroke-width="0.9"/>
<line x1="513.33" y1="277.70" x2="513.33" y2="290.30" stroke="#858585" stroke-width="1.1"/>
<line x1="511.83" y1="277.70" x2="514.83" y2="277.70" stroke="#222" stroke-width="0.9"/>
<line x1="511.83" y1="290.30" x2="514.83" y2="290.30" stroke="#222" stroke-width="0.9"/>
<rect x="510.15" y="281.50" width="6.36" height="5.60" fill="#F5BEE6" fill-opacity="0.85" stroke="#151515" stroke-width="0.85"/>
<line x1="513.33" y1="281.50" x2="513.33" y2="287.10" stroke="#858585" stroke-width="0.8800000000000001" opacity="0.75"/>
<line x1="510.15" y1="285.90" x2="516.51" y2="285.90" stroke="#1a1a1a" stroke-width="0.9"/>
<line x1="520.39" y1="272.20" x2="520.39" y2="306.40" stroke="#858585" stroke-width="1.1"/>
<line x1="518.89" y1="272.20" x2="521.89" y2="272.20" stroke="#222" stroke-width="0.9"/>
<line x1="518.89" y1="306.40" x2="521.89" y2="306.40" stroke="#222" stroke-width="0.9"/>
<rect x="517.21" y="277.40" width="6.36" height="17.90" fill="#D2D2D2" fill-opacity="0.85" stroke="#151515" stroke-width="0.85"/>
<line x1="520.39" y1="277.40" x2="520.39" y2="295.30" stroke="#858585" stroke-width="0.8800000000000001" opacity="0.75"/>
<line x1="517.21" y1="283.30" x2="523.57" y2="283.30" stroke="#1a1a1a" stroke-width="0.9"/>
<line x1="539.91" y1="301.20" x2="545.97" y2="301.20" stroke="#111" stroke-width="1.6"/>
<line x1="550.00" y1="310.40" x2="550.00" y2="321.40" stroke="#858585" stroke-width="1.1"/>
<line x1="548.50" y1="310.40" x2="551.50" y2="310.40" stroke="#222" stroke-width="0.9"/>
<line x1="548.50" y1="321.40" x2="551.50" y2="321.40" stroke="#222" stroke-width="0.9"/>
<rect x="546.82" y="312.90" width="6.36" height="5.70" fill="#F5F5A0" fill-opacity="0.85" stroke="#151515" stroke-width="0.85"/>
<line x1="550.00" y1="312.90" x2="550.00" y2="318.60" stroke="#858585" stroke-width="0.8800000000000001" opacity="0.75"/>
<line x1="546.82" y1="316.00" x2="553.18" y2="316.00" stroke="#1a1a1a" stroke-width="0.9"/>
<line x1="554.03" y1="324.40" x2="560.09" y2="324.40" stroke="#111" stroke-width="1.6"/>
<line x1="564.12" y1="330.20" x2="564.12" y2="359.50" stroke="#858585" stroke-width="1.1"/>
<line x1="562.62" y1="330.20" x2="565.62" y2="330.20" stroke="#222" stroke-width="0.9"/>
<line x1="562.62" y1="359.50" x2="565.62" y2="359.50" stroke="#222" stroke-width="0.9"/>
<rect x="560.94" y="337.40" width="6.36" height="15.10" fill="#A5E19B" fill-opacity="0.85" stroke="#151515" stroke-width="0.85"/>
<line x1="564.12" y1="337.40" x2="564.12" y2="352.50" stroke="#858585" stroke-width="0.8800000000000001" opacity="0.75"/>
<line x1="560.94" y1="344.70" x2="567.30" y2="344.70" stroke="#1a1a1a" stroke-width="0.9"/>
<line x1="571.18" y1="312.30" x2="571.18" y2="325.40" stroke="#858585" stroke-width="1.1"/>
<line x1="569.68" y1="312.30" x2="572.68" y2="312.30" stroke="#222" stroke-width="0.9"/>
<line x1="569.68" y1="325.40" x2="572.68" y2="325.40" stroke="#222" stroke-width="0.9"/>
<rect x="568.00" y="315.30" width="6.36" height="6.70" fill="#C8A0E1" fill-opacity="0.85" stroke="#151515" stroke-width="0.85"/>
<line x1="571.18" y1="315.30" x2="571.18" y2="322.00" stroke="#858585" stroke-width="0.8800000000000001" opacity="0.75"/>
<line x1="568.00" y1="318.60" x2="574.36" y2="318.60" stroke="#1a1a1a" stroke-width="0.9"/>
<line x1="578.24" y1="299.40" x2="578.24" y2="307.80" stroke="#858585" stroke-width="1.1"/>
<line x1="576.74" y1="299.40" x2="579.74" y2="299.40" stroke="#222" stroke-width="0.9"/>
<line x1="576.74" y1="307.80" x2="579.74" y2="307.80" stroke="#222" stroke-width="0.9"/>
<rect x="575.06" y="301.70" width="6.36" height="4.20" fill="#F8BE82" fill-opacity="0.85" stroke="#151515" stroke-width="0.85"/>
<line x1="578.24" y1="301.70" x2="578.24" y2="305.90" stroke="#858585" stroke-width="0.8800000000000001" opacity="0.75"/>
<line x1="575.06" y1="303.60" x2="581.42" y2="303.60" stroke="#1a1a1a" stroke-width="0.9"/>
<line x1="585.30" y1="325.40" x2="585.30" y2="333.70" stroke="#858585" stroke-width="1.1"/>
<line x1="583.80" y1="325.40" x2="586.80" y2="325.40" stroke="#222" stroke-width="0.9"/>
<line x1="583.80" y1="333.70" x2="586.80" y2="333.70" stroke="#222" stroke-width="0.9"/>
<rect x="582.12" y="327.40" width="6.36" height="4.30" fill="#D7A073" fill-opacity="0.85" stroke="#151515" stroke-width="0.85"/>
<line x1="585.30" y1="327.40" x2="585.30" y2="331.70" stroke="#858585" stroke-width="0.8800000000000001" opacity="0.75"/>
<line x1="582.12" y1="329.50" x2="588.48" y2="329.50" stroke="#1a1a1a" stroke-width="0.9"/>
<line x1="592.36" y1="326.20" x2="592.36" y2="360.50" stroke="#858585" stroke-width="1.1"/>
<line x1="590.86" y1="326.20" x2="593.86" y2="326.20" stroke="#222" stroke-width="0.9"/>
<line x1="590.86" y1="360.50" x2="593.86" y2="360.50" stroke="#222" stroke-width="0.9"/>
<rect x="589.18" y="335.20" width="6.36" height="17.30" fill="#F5BEE6" fill-opacity="0.85" stroke="#151515" stroke-width="0.85"/>
<line x1="592.36" y1="335.20" x2="592.36" y2="352.50" stroke="#858585" stroke-width="0.8800000000000001" opacity="0.75"/>
<line x1="589.18" y1="343.20" x2="595.54" y2="343.20" stroke="#1a1a1a" stroke-width="0.9"/>
<line x1="599.42" y1="323.50" x2="599.42" y2="329.50" stroke="#858585" stroke-width="1.1"/>
<line x1="597.92" y1="323.50" x2="600.92" y2="323.50" stroke="#222" stroke-width="0.9"/>
<line x1="597.92" y1="329.50" x2="600.92" y2="329.50" stroke="#222" stroke-width="0.9"/>
<rect x="596.24" y="324.70" width="6.36" height="4.20" fill="#D2D2D2" fill-opacity="0.85" stroke="#151515" stroke-width="0.85"/>
<line x1="599.42" y1="324.70" x2="599.42" y2="328.90" stroke="#858585" stroke-width="0.8800000000000001" opacity="0.75"/>
<line x1="596.24" y1="326.60" x2="602.60" y2="326.60" stroke="#1a1a1a" stroke-width="0.9"/>
<line x1="42.70" y1="662.50" x2="42.70" y2="799.90" stroke="#111" stroke-width="1.3"/>
<line x1="42.05" y1="799.90" x2="614.70" y2="799.90" stroke="#111" stroke-width="1.3"/>
<line x1="40.20" y1="668.30" x2="42.70" y2="668.30" stroke="#111" stroke-width="0.8"/>
<text x="39.50" y="671.50" font-size="9.3" text-anchor="end" font-weight="normal" fill="#333" >1.0</text>
<line x1="40.20" y1="710.20" x2="42.70" y2="710.20" stroke="#111" stroke-width="0.8"/>
<text x="39.50" y="713.40" font-size="9.3" text-anchor="end" font-weight="normal" fill="#333" >0.8</text>
<line x1="40.20" y1="752.90" x2="42.70" y2="752.90" stroke="#111" stroke-width="0.8"/>
<text x="39.50" y="756.10" font-size="9.3" text-anchor="end" font-weight="normal" fill="#333" >0.6</text>
<line x1="40.20" y1="794.60" x2="42.70" y2="794.60" stroke="#111" stroke-width="0.8"/>
<text x="39.50" y="797.80" font-size="9.3" text-anchor="end" font-weight="normal" fill="#333" >0.4</text>
<text x="81.40" y="812.00" font-size="9.3" text-anchor="middle" font-weight="normal" fill="#1a1a1a" >Lung</text>
<text x="163.10" y="812.00" font-size="9.3" text-anchor="middle" font-weight="normal" fill="#1a1a1a" >MM</text>
<text x="244.00" y="812.00" font-size="9.3" text-anchor="middle" font-weight="normal" fill="#1a1a1a" >Melanoma</text>
<text x="325.50" y="812.00" font-size="9.3" text-anchor="middle" font-weight="normal" fill="#1a1a1a" >ALL</text>
<text x="407.20" y="812.00" font-size="9.3" text-anchor="middle" font-weight="normal" fill="#1a1a1a" >CLL</text>
<text x="488.60" y="812.00" font-size="9.3" text-anchor="middle" font-weight="normal" fill="#1a1a1a" >Breast</text>
<text x="570.00" y="812.00" font-size="9.3" text-anchor="middle" font-weight="normal" fill="#1a1a1a" >Prostate</text>
<text x="348.60" y="669.20" font-size="11.5" text-anchor="middle" font-weight="normal" fill="#1a1a1a" >Cancer type</text>
<text x="348.40" y="830.60" font-size="11.5" text-anchor="middle" font-weight="normal" fill="#1a1a1a" >Subtask</text>
<text x="25.80" y="731.00" font-size="9.3" text-anchor="middle" font-weight="normal" fill="#1a1a1a" transform="rotate(-90 25.80 731.00)">AUROC</text>
<line x1="62.36" y1="685.60" x2="62.36" y2="728.30" stroke="#3a3a3a" stroke-width="0.8"/>
<line x1="60.86" y1="685.60" x2="63.86" y2="685.60" stroke="#222" stroke-width="0.9"/>
<line x1="60.86" y1="728.30" x2="63.86" y2="728.30" stroke="#222" stroke-width="0.9"/>
<rect x="58.69" y="693.10" width="7.34" height="18.40" fill="#E1AF8C" fill-opacity="0.85" stroke="#2a2a2a" stroke-width="0.75"/>
<line x1="62.36" y1="693.10" x2="62.36" y2="711.50" stroke="#3a3a3a" stroke-width="0.6400000000000001" opacity="0.75"/>
<line x1="58.69" y1="700.50" x2="66.03" y2="700.50" stroke="#1a1a1a" stroke-width="0.9"/>
<line x1="70.40" y1="691.50" x2="70.40" y2="711.50" stroke="#3a3a3a" stroke-width="0.8"/>
<line x1="68.90" y1="691.50" x2="71.90" y2="691.50" stroke="#222" stroke-width="0.9"/>
<line x1="68.90" y1="711.50" x2="71.90" y2="711.50" stroke="#222" stroke-width="0.9"/>
<rect x="66.73" y="696.50" width="7.34" height="11.50" fill="#FAC38C" fill-opacity="0.85" stroke="#2a2a2a" stroke-width="0.75"/>
<line x1="70.40" y1="696.50" x2="70.40" y2="708.00" stroke="#3a3a3a" stroke-width="0.6400000000000001" opacity="0.75"/>
<line x1="66.73" y1="702.30" x2="74.07" y2="702.30" stroke="#1a1a1a" stroke-width="0.9"/>
<line x1="78.44" y1="689.60" x2="78.44" y2="732.30" stroke="#3a3a3a" stroke-width="0.8"/>
<line x1="76.94" y1="689.60" x2="79.94" y2="689.60" stroke="#222" stroke-width="0.9"/>
<line x1="76.94" y1="732.30" x2="79.94" y2="732.30" stroke="#222" stroke-width="0.9"/>
<rect x="74.77" y="701.10" width="7.34" height="16.30" fill="#CDA5E1" fill-opacity="0.85" stroke="#2a2a2a" stroke-width="0.75"/>
<line x1="78.44" y1="701.10" x2="78.44" y2="717.40" stroke="#3a3a3a" stroke-width="0.6400000000000001" opacity="0.75"/>
<line x1="74.77" y1="708.40" x2="82.11" y2="708.40" stroke="#1a1a1a" stroke-width="0.9"/>
<line x1="86.48" y1="707.30" x2="86.48" y2="741.50" stroke="#3a3a3a" stroke-width="0.8"/>
<line x1="84.98" y1="707.30" x2="87.98" y2="707.30" stroke="#222" stroke-width="0.9"/>
<line x1="84.98" y1="741.50" x2="87.98" y2="741.50" stroke="#222" stroke-width="0.9"/>
<rect x="82.81" y="709.30" width="7.34" height="23.20" fill="#A0C8EB" fill-opacity="0.85" stroke="#2a2a2a" stroke-width="0.75"/>
<line x1="86.48" y1="709.30" x2="86.48" y2="732.50" stroke="#3a3a3a" stroke-width="0.6400000000000001" opacity="0.75"/>
<line x1="82.81" y1="719.50" x2="90.15" y2="719.50" stroke="#1a1a1a" stroke-width="0.9"/>
<line x1="94.52" y1="682.60" x2="94.52" y2="734.00" stroke="#3a3a3a" stroke-width="0.8"/>
<line x1="93.02" y1="682.60" x2="96.02" y2="682.60" stroke="#222" stroke-width="0.9"/>
<line x1="93.02" y1="734.00" x2="96.02" y2="734.00" stroke="#222" stroke-width="0.9"/>
<rect x="90.85" y="685.40" width="7.34" height="48.20" fill="#F5F596" fill-opacity="0.85" stroke="#2a2a2a" stroke-width="0.75"/>
<line x1="94.52" y1="685.40" x2="94.52" y2="733.60" stroke="#3a3a3a" stroke-width="0.6400000000000001" opacity="0.75"/>
<line x1="90.85" y1="709.50" x2="98.19" y2="709.50" stroke="#1a1a1a" stroke-width="0.9"/>
<line x1="102.56" y1="684.60" x2="102.56" y2="720.40" stroke="#3a3a3a" stroke-width="0.8"/>
<line x1="101.06" y1="684.60" x2="104.06" y2="684.60" stroke="#222" stroke-width="0.9"/>
<line x1="101.06" y1="720.40" x2="104.06" y2="720.40" stroke="#222" stroke-width="0.9"/>
<rect x="98.89" y="691.10" width="7.34" height="16.90" fill="#AAE6A5" fill-opacity="0.85" stroke="#2a2a2a" stroke-width="0.75"/>
<line x1="102.56" y1="691.10" x2="102.56" y2="708.00" stroke="#3a3a3a" stroke-width="0.6400000000000001" opacity="0.75"/>
<line x1="98.89" y1="698.50" x2="106.23" y2="698.50" stroke="#1a1a1a" stroke-width="0.9"/>
<line x1="110.60" y1="687.60" x2="110.60" y2="710.30" stroke="#3a3a3a" stroke-width="0.8"/>
<line x1="109.10" y1="687.60" x2="112.10" y2="687.60" stroke="#222" stroke-width="0.9"/>
<line x1="109.10" y1="710.30" x2="112.10" y2="710.30" stroke="#222" stroke-width="0.9"/>
<rect x="106.93" y="688.20" width="7.34" height="15.20" fill="#D7D7D7" fill-opacity="0.85" stroke="#2a2a2a" stroke-width="0.75"/>
<line x1="110.60" y1="688.20" x2="110.60" y2="703.40" stroke="#3a3a3a" stroke-width="0.6400000000000001" opacity="0.75"/>
<line x1="106.93" y1="694.40" x2="114.27" y2="694.40" stroke="#1a1a1a" stroke-width="0.9"/>
<line x1="118.64" y1="723.30" x2="118.64" y2="756.60" stroke="#3a3a3a" stroke-width="0.8"/>
<line x1="117.14" y1="723.30" x2="120.14" y2="723.30" stroke="#222" stroke-width="0.9"/>
<line x1="117.14" y1="756.60" x2="120.14" y2="756.60" stroke="#222" stroke-width="0.9"/>
<rect x="114.97" y="726.40" width="7.34" height="19.30" fill="#F5BEE1" fill-opacity="0.85" stroke="#2a2a2a" stroke-width="0.75"/>
<line x1="118.64" y1="726.40" x2="118.64" y2="745.70" stroke="#3a3a3a" stroke-width="0.6400000000000001" opacity="0.75"/>
<line x1="114.97" y1="734.50" x2="122.31" y2="734.50" stroke="#1a1a1a" stroke-width="0.9"/>
<line x1="138.31" y1="707.30" x2="145.35" y2="707.30" stroke="#111" stroke-width="1.6"/>
<line x1="149.87" y1="719.40" x2="149.87" y2="734.60" stroke="#3a3a3a" stroke-width="0.8"/>
<line x1="148.37" y1="719.40" x2="151.37" y2="719.40" stroke="#222" stroke-width="0.9"/>
<line x1="148.37" y1="734.60" x2="151.37" y2="734.60" stroke="#222" stroke-width="0.9"/>
<rect x="146.20" y="724.40" width="7.34" height="8.10" fill="#FAC38C" fill-opacity="0.85" stroke="#2a2a2a" stroke-width="0.75"/>
<line x1="149.87" y1="724.40" x2="149.87" y2="732.50" stroke="#3a3a3a" stroke-width="0.6400000000000001" opacity="0.75"/>
<line x1="146.20" y1="729.00" x2="153.54" y2="729.00" stroke="#1a1a1a" stroke-width="0.9"/>
<line x1="157.91" y1="716.80" x2="157.91" y2="731.00" stroke="#3a3a3a" stroke-width="0.8"/>
<line x1="156.41" y1="716.80" x2="159.41" y2="716.80" stroke="#222" stroke-width="0.9"/>
<line x1="156.41" y1="731.00" x2="159.41" y2="731.00" stroke="#222" stroke-width="0.9"/>
<rect x="154.24" y="717.40" width="7.34" height="7.00" fill="#CDA5E1" fill-opacity="0.85" stroke="#2a2a2a" stroke-width="0.75"/>
<line x1="157.91" y1="717.40" x2="157.91" y2="724.40" stroke="#3a3a3a" stroke-width="0.6400000000000001" opacity="0.75"/>
<line x1="154.24" y1="717.40" x2="161.58" y2="717.40" stroke="#1a1a1a" stroke-width="0.9"/>
<line x1="165.95" y1="695.50" x2="165.95" y2="736.20" stroke="#3a3a3a" stroke-width="0.8"/>
<line x1="164.45" y1="695.50" x2="167.45" y2="695.50" stroke="#222" stroke-width="0.9"/>
<line x1="164.45" y1="736.20" x2="167.45" y2="736.20" stroke="#222" stroke-width="0.9"/>
<rect x="162.28" y="698.10" width="7.34" height="20.10" fill="#A0C8EB" fill-opacity="0.85" stroke="#2a2a2a" stroke-width="0.75"/>
<line x1="165.95" y1="698.10" x2="165.95" y2="718.20" stroke="#3a3a3a" stroke-width="0.6400000000000001" opacity="0.75"/>
<line x1="162.28" y1="699.70" x2="169.62" y2="699.70" stroke="#1a1a1a" stroke-width="0.9"/>
<line x1="173.99" y1="694.60" x2="173.99" y2="738.40" stroke="#3a3a3a" stroke-width="0.8"/>
<line x1="172.49" y1="694.60" x2="175.49" y2="694.60" stroke="#222" stroke-width="0.9"/>
<line x1="172.49" y1="738.40" x2="175.49" y2="738.40" stroke="#222" stroke-width="0.9"/>
<rect x="170.32" y="713.50" width="7.34" height="21.40" fill="#F5F596" fill-opacity="0.85" stroke="#2a2a2a" stroke-width="0.75"/>
<line x1="173.99" y1="713.50" x2="173.99" y2="734.90" stroke="#3a3a3a" stroke-width="0.6400000000000001" opacity="0.75"/>
<line x1="170.32" y1="731.60" x2="177.66" y2="731.60" stroke="#1a1a1a" stroke-width="0.9"/>
<line x1="182.03" y1="688.50" x2="182.03" y2="717.80" stroke="#3a3a3a" stroke-width="0.8"/>
<line x1="180.53" y1="688.50" x2="183.53" y2="688.50" stroke="#222" stroke-width="0.9"/>
<line x1="180.53" y1="717.80" x2="183.53" y2="717.80" stroke="#222" stroke-width="0.9"/>
<rect x="178.36" y="696.50" width="7.34" height="14.70" fill="#AAE6A5" fill-opacity="0.85" stroke="#2a2a2a" stroke-width="0.75"/>
<line x1="182.03" y1="696.50" x2="182.03" y2="711.20" stroke="#3a3a3a" stroke-width="0.6400000000000001" opacity="0.75"/>
<line x1="178.36" y1="704.40" x2="185.70" y2="704.40" stroke="#1a1a1a" stroke-width="0.9"/>
<line x1="190.07" y1="689.30" x2="190.07" y2="707.30" stroke="#3a3a3a" stroke-width="0.8"/>
<line x1="188.57" y1="689.30" x2="191.57" y2="689.30" stroke="#222" stroke-width="0.9"/>
<line x1="188.57" y1="707.30" x2="191.57" y2="707.30" stroke="#222" stroke-width="0.9"/>
<rect x="186.40" y="696.10" width="7.34" height="9.90" fill="#D7D7D7" fill-opacity="0.85" stroke="#2a2a2a" stroke-width="0.75"/>
<line x1="190.07" y1="696.10" x2="190.07" y2="706.00" stroke="#3a3a3a" stroke-width="0.6400000000000001" opacity="0.75"/>
<line x1="186.40" y1="703.40" x2="193.74" y2="703.40" stroke="#1a1a1a" stroke-width="0.9"/>
<line x1="198.11" y1="737.50" x2="198.11" y2="759.90" stroke="#3a3a3a" stroke-width="0.8"/>
<line x1="196.61" y1="737.50" x2="199.61" y2="737.50" stroke="#222" stroke-width="0.9"/>
<line x1="196.61" y1="759.90" x2="199.61" y2="759.90" stroke="#222" stroke-width="0.9"/>
<rect x="194.44" y="742.10" width="7.34" height="13.80" fill="#F5BEE1" fill-opacity="0.85" stroke="#2a2a2a" stroke-width="0.75"/>
<line x1="198.11" y1="742.10" x2="198.11" y2="755.90" stroke="#3a3a3a" stroke-width="0.6400000000000001" opacity="0.75"/>
<line x1="194.44" y1="746.30" x2="201.78" y2="746.30" stroke="#1a1a1a" stroke-width="0.9"/>
<line x1="221.30" y1="708.90" x2="221.30" y2="713.20" stroke="#3a3a3a" stroke-width="0.8"/>
<line x1="219.80" y1="708.90" x2="222.80" y2="708.90" stroke="#222" stroke-width="0.9"/>
<line x1="219.80" y1="713.20" x2="222.80" y2="713.20" stroke="#222" stroke-width="0.9"/>
<rect x="217.63" y="709.70" width="7.34" height="2.60" fill="#E1AF8C" fill-opacity="0.85" stroke="#2a2a2a" stroke-width="0.75"/>
<line x1="221.30" y1="709.70" x2="221.30" y2="712.30" stroke="#3a3a3a" stroke-width="0.6400000000000001" opacity="0.75"/>
<line x1="217.63" y1="711.00" x2="224.97" y2="711.00" stroke="#1a1a1a" stroke-width="0.9"/>
<line x1="229.34" y1="684.00" x2="229.34" y2="688.20" stroke="#3a3a3a" stroke-width="0.8"/>
<line x1="227.84" y1="684.00" x2="230.84" y2="684.00" stroke="#222" stroke-width="0.9"/>
<line x1="227.84" y1="688.20" x2="230.84" y2="688.20" stroke="#222" stroke-width="0.9"/>
<rect x="225.67" y="685.00" width="7.34" height="2.90" fill="#FAC38C" fill-opacity="0.85" stroke="#2a2a2a" stroke-width="0.75"/>
<line x1="229.34" y1="685.00" x2="229.34" y2="687.90" stroke="#3a3a3a" stroke-width="0.6400000000000001" opacity="0.75"/>
<line x1="225.67" y1="686.30" x2="233.01" y2="686.30" stroke="#1a1a1a" stroke-width="0.9"/>
<line x1="237.38" y1="690.50" x2="237.38" y2="709.70" stroke="#3a3a3a" stroke-width="0.8"/>
<line x1="235.88" y1="690.50" x2="238.88" y2="690.50" stroke="#222" stroke-width="0.9"/>
<line x1="235.88" y1="709.70" x2="238.88" y2="709.70" stroke="#222" stroke-width="0.9"/>
<rect x="233.71" y="695.50" width="7.34" height="9.60" fill="#CDA5E1" fill-opacity="0.85" stroke="#2a2a2a" stroke-width="0.75"/>
<line x1="237.38" y1="695.50" x2="237.38" y2="705.10" stroke="#3a3a3a" stroke-width="0.6400000000000001" opacity="0.75"/>
<line x1="233.71" y1="700.70" x2="241.05" y2="700.70" stroke="#1a1a1a" stroke-width="0.9"/>
<line x1="245.42" y1="678.10" x2="245.42" y2="719.50" stroke="#3a3a3a" stroke-width="0.8"/>
<line x1="243.92" y1="678.10" x2="246.92" y2="678.10" stroke="#222" stroke-width="0.9"/>
<line x1="243.92" y1="719.50" x2="246.92" y2="719.50" stroke="#222" stroke-width="0.9"/>
<rect x="241.75" y="688.20" width="7.34" height="21.30" fill="#A0C8EB" fill-opacity="0.85" stroke="#2a2a2a" stroke-width="0.75"/>
<line x1="245.42" y1="688.20" x2="245.42" y2="709.50" stroke="#3a3a3a" stroke-width="0.6400000000000001" opacity="0.75"/>
<line x1="241.75" y1="698.40" x2="249.09" y2="698.40" stroke="#1a1a1a" stroke-width="0.9"/>
<line x1="253.46" y1="717.40" x2="253.46" y2="745.40" stroke="#3a3a3a" stroke-width="0.8"/>
<line x1="251.96" y1="717.40" x2="254.96" y2="717.40" stroke="#222" stroke-width="0.9"/>
<line x1="251.96" y1="745.40" x2="254.96" y2="745.40" stroke="#222" stroke-width="0.9"/>
<rect x="249.79" y="724.10" width="7.34" height="14.50" fill="#F5F596" fill-opacity="0.85" stroke="#2a2a2a" stroke-width="0.75"/>
<line x1="253.46" y1="724.10" x2="253.46" y2="738.60" stroke="#3a3a3a" stroke-width="0.6400000000000001" opacity="0.75"/>
<line x1="249.79" y1="731.30" x2="257.13" y2="731.30" stroke="#1a1a1a" stroke-width="0.9"/>
<line x1="261.50" y1="698.10" x2="261.50" y2="714.30" stroke="#3a3a3a" stroke-width="0.8"/>
<line x1="260.00" y1="698.10" x2="263.00" y2="698.10" stroke="#222" stroke-width="0.9"/>
<line x1="260.00" y1="714.30" x2="263.00" y2="714.30" stroke="#222" stroke-width="0.9"/>
<rect x="257.83" y="702.30" width="7.34" height="8.30" fill="#AAE6A5" fill-opacity="0.85" stroke="#2a2a2a" stroke-width="0.75"/>
<line x1="261.50" y1="702.30" x2="261.50" y2="710.60" stroke="#3a3a3a" stroke-width="0.6400000000000001" opacity="0.75"/>
<line x1="257.83" y1="706.20" x2="265.17" y2="706.20" stroke="#1a1a1a" stroke-width="0.9"/>
<line x1="269.54" y1="670.80" x2="269.54" y2="709.50" stroke="#3a3a3a" stroke-width="0.8"/>
<line x1="268.04" y1="670.80" x2="271.04" y2="670.80" stroke="#222" stroke-width="0.9"/>
<line x1="268.04" y1="709.50" x2="271.04" y2="709.50" stroke="#222" stroke-width="0.9"/>
<rect x="265.87" y="680.40" width="7.34" height="19.00" fill="#D7D7D7" fill-opacity="0.85" stroke="#2a2a2a" stroke-width="0.75"/>
<line x1="269.54" y1="680.40" x2="269.54" y2="699.40" stroke="#3a3a3a" stroke-width="0.6400000000000001" opacity="0.75"/>
<line x1="265.87" y1="690.20" x2="273.21" y2="690.20" stroke="#1a1a1a" stroke-width="0.9"/>
<line x1="277.58" y1="703.40" x2="277.58" y2="750.00" stroke="#3a3a3a" stroke-width="0.8"/>
<line x1="276.08" y1="703.40" x2="279.08" y2="703.40" stroke="#222" stroke-width="0.9"/>
<line x1="276.08" y1="750.00" x2="279.08" y2="750.00" stroke="#222" stroke-width="0.9"/>
<rect x="273.91" y="715.20" width="7.34" height="23.40" fill="#F5BEE1" fill-opacity="0.85" stroke="#2a2a2a" stroke-width="0.75"/>
<line x1="277.58" y1="715.20" x2="277.58" y2="738.60" stroke="#3a3a3a" stroke-width="0.6400000000000001" opacity="0.75"/>
<line x1="273.91" y1="726.40" x2="281.25" y2="726.40" stroke="#1a1a1a" stroke-width="0.9"/>
<line x1="300.77" y1="714.30" x2="300.77" y2="728.30" stroke="#3a3a3a" stroke-width="0.8"/>
<line x1="299.27" y1="714.30" x2="302.27" y2="714.30" stroke="#222" stroke-width="0.9"/>
<line x1="299.27" y1="728.30" x2="302.27" y2="728.30" stroke="#222" stroke-width="0.9"/>
<rect x="297.10" y="718.50" width="7.34" height="6.80" fill="#E1AF8C" fill-opacity="0.85" stroke="#2a2a2a" stroke-width="0.75"/>
<line x1="300.77" y1="718.50" x2="300.77" y2="725.30" stroke="#3a3a3a" stroke-width="0.6400000000000001" opacity="0.75"/>
<line x1="297.10" y1="721.80" x2="304.44" y2="721.80" stroke="#1a1a1a" stroke-width="0.9"/>
<line x1="308.81" y1="717.40" x2="308.81" y2="722.70" stroke="#3a3a3a" stroke-width="0.8"/>
<line x1="307.31" y1="717.40" x2="310.31" y2="717.40" stroke="#222" stroke-width="0.9"/>
<line x1="307.31" y1="722.70" x2="310.31" y2="722.70" stroke="#222" stroke-width="0.9"/>
<rect x="305.14" y="718.70" width="7.34" height="4.00" fill="#FAC38C" fill-opacity="0.85" stroke="#2a2a2a" stroke-width="0.75"/>
<line x1="308.81" y1="718.70" x2="308.81" y2="722.70" stroke="#3a3a3a" stroke-width="0.6400000000000001" opacity="0.75"/>
<line x1="305.14" y1="720.40" x2="312.48" y2="720.40" stroke="#1a1a1a" stroke-width="0.9"/>
<line x1="316.85" y1="716.50" x2="316.85" y2="722.40" stroke="#3a3a3a" stroke-width="0.8"/>
<line x1="315.35" y1="716.50" x2="318.35" y2="716.50" stroke="#222" stroke-width="0.9"/>
<line x1="315.35" y1="722.40" x2="318.35" y2="722.40" stroke="#222" stroke-width="0.9"/>
<rect x="313.18" y="718.50" width="7.34" height="3.00" fill="#CDA5E1" fill-opacity="0.85" stroke="#2a2a2a" stroke-width="0.75"/>
<line x1="316.85" y1="718.50" x2="316.85" y2="721.50" stroke="#3a3a3a" stroke-width="0.6400000000000001" opacity="0.75"/>
<line x1="313.18" y1="720.00" x2="320.52" y2="720.00" stroke="#1a1a1a" stroke-width="0.9"/>
<line x1="324.89" y1="703.40" x2="324.89" y2="722.40" stroke="#3a3a3a" stroke-width="0.8"/>
<line x1="323.39" y1="703.40" x2="326.39" y2="703.40" stroke="#222" stroke-width="0.9"/>
<line x1="323.39" y1="722.40" x2="326.39" y2="722.40" stroke="#222" stroke-width="0.9"/>
<rect x="321.22" y="708.00" width="7.34" height="9.40" fill="#A0C8EB" fill-opacity="0.85" stroke="#2a2a2a" stroke-width="0.75"/>
<line x1="324.89" y1="708.00" x2="324.89" y2="717.40" stroke="#3a3a3a" stroke-width="0.6400000000000001" opacity="0.75"/>
<line x1="321.22" y1="712.60" x2="328.56" y2="712.60" stroke="#1a1a1a" stroke-width="0.9"/>
<line x1="332.93" y1="716.20" x2="332.93" y2="721.40" stroke="#3a3a3a" stroke-width="0.8"/>
<line x1="331.43" y1="716.20" x2="334.43" y2="716.20" stroke="#222" stroke-width="0.9"/>
<line x1="331.43" y1="721.40" x2="334.43" y2="721.40" stroke="#222" stroke-width="0.9"/>
<rect x="329.26" y="716.90" width="7.34" height="3.50" fill="#F5F596" fill-opacity="0.85" stroke="#2a2a2a" stroke-width="0.75"/>
<line x1="332.93" y1="716.90" x2="332.93" y2="720.40" stroke="#3a3a3a" stroke-width="0.6400000000000001" opacity="0.75"/>
<line x1="329.26" y1="718.70" x2="336.60" y2="718.70" stroke="#1a1a1a" stroke-width="0.9"/>
<line x1="340.97" y1="709.50" x2="340.97" y2="744.50" stroke="#3a3a3a" stroke-width="0.8"/>
<line x1="339.47" y1="709.50" x2="342.47" y2="709.50" stroke="#222" stroke-width="0.9"/>
<line x1="339.47" y1="744.50" x2="342.47" y2="744.50" stroke="#222" stroke-width="0.9"/>
<rect x="337.30" y="718.50" width="7.34" height="17.30" fill="#AAE6A5" fill-opacity="0.85" stroke="#2a2a2a" stroke-width="0.75"/>
<line x1="340.97" y1="718.50" x2="340.97" y2="735.80" stroke="#3a3a3a" stroke-width="0.6400000000000001" opacity="0.75"/>
<line x1="337.30" y1="727.40" x2="344.64" y2="727.40" stroke="#1a1a1a" stroke-width="0.9"/>
<line x1="349.01" y1="736.20" x2="349.01" y2="757.20" stroke="#3a3a3a" stroke-width="0.8"/>
<line x1="347.51" y1="736.20" x2="350.51" y2="736.20" stroke="#222" stroke-width="0.9"/>
<line x1="347.51" y1="757.20" x2="350.51" y2="757.20" stroke="#222" stroke-width="0.9"/>
<rect x="345.34" y="741.50" width="7.34" height="10.50" fill="#D7D7D7" fill-opacity="0.85" stroke="#2a2a2a" stroke-width="0.75"/>
<line x1="349.01" y1="741.50" x2="349.01" y2="752.00" stroke="#3a3a3a" stroke-width="0.6400000000000001" opacity="0.75"/>
<line x1="345.34" y1="746.70" x2="352.68" y2="746.70" stroke="#1a1a1a" stroke-width="0.9"/>
<line x1="357.05" y1="765.50" x2="357.05" y2="787.40" stroke="#3a3a3a" stroke-width="0.8"/>
<line x1="355.55" y1="765.50" x2="358.55" y2="765.50" stroke="#222" stroke-width="0.9"/>
<line x1="355.55" y1="787.40" x2="358.55" y2="787.40" stroke="#222" stroke-width="0.9"/>
<rect x="353.38" y="771.40" width="7.34" height="11.20" fill="#F5BEE1" fill-opacity="0.85" stroke="#2a2a2a" stroke-width="0.75"/>
<line x1="357.05" y1="771.40" x2="357.05" y2="782.60" stroke="#3a3a3a" stroke-width="0.6400000000000001" opacity="0.75"/>
<line x1="353.38" y1="776.30" x2="360.72" y2="776.30" stroke="#1a1a1a" stroke-width="0.9"/>
<line x1="380.24" y1="698.40" x2="380.24" y2="712.00" stroke="#3a3a3a" stroke-width="0.8"/>
<line x1="378.74" y1="698.40" x2="381.74" y2="698.40" stroke="#222" stroke-width="0.9"/>
<line x1="378.74" y1="712.00" x2="381.74" y2="712.00" stroke="#222" stroke-width="0.9"/>
<rect x="376.57" y="702.30" width="7.34" height="6.90" fill="#E1AF8C" fill-opacity="0.85" stroke="#2a2a2a" stroke-width="0.75"/>
<line x1="380.24" y1="702.30" x2="380.24" y2="709.20" stroke="#3a3a3a" stroke-width="0.6400000000000001" opacity="0.75"/>
<line x1="376.57" y1="705.60" x2="383.91" y2="705.60" stroke="#1a1a1a" stroke-width="0.9"/>
<line x1="388.28" y1="709.20" x2="388.28" y2="733.30" stroke="#3a3a3a" stroke-width="0.8"/>
<line x1="386.78" y1="709.20" x2="389.78" y2="709.20" stroke="#222" stroke-width="0.9"/>
<line x1="386.78" y1="733.30" x2="389.78" y2="733.30" stroke="#222" stroke-width="0.9"/>
<rect x="384.61" y="719.20" width="7.34" height="11.90" fill="#FAC38C" fill-opacity="0.85" stroke="#2a2a2a" stroke-width="0.75"/>
<line x1="388.28" y1="719.20" x2="388.28" y2="731.10" stroke="#3a3a3a" stroke-width="0.6400000000000001" opacity="0.75"/>
<line x1="384.61" y1="729.10" x2="391.95" y2="729.10" stroke="#1a1a1a" stroke-width="0.9"/>
<line x1="396.32" y1="709.50" x2="396.32" y2="722.20" stroke="#3a3a3a" stroke-width="0.8"/>
<line x1="394.82" y1="709.50" x2="397.82" y2="709.50" stroke="#222" stroke-width="0.9"/>
<line x1="394.82" y1="722.20" x2="397.82" y2="722.20" stroke="#222" stroke-width="0.9"/>
<rect x="392.65" y="711.00" width="7.34" height="6.30" fill="#CDA5E1" fill-opacity="0.85" stroke="#2a2a2a" stroke-width="0.75"/>
<line x1="396.32" y1="711.00" x2="396.32" y2="717.30" stroke="#3a3a3a" stroke-width="0.6400000000000001" opacity="0.75"/>
<line x1="392.65" y1="711.00" x2="399.99" y2="711.00" stroke="#1a1a1a" stroke-width="0.9"/>
<line x1="404.36" y1="668.60" x2="404.36" y2="742.90" stroke="#3a3a3a" stroke-width="0.8"/>
<line x1="402.86" y1="668.60" x2="405.86" y2="668.60" stroke="#222" stroke-width="0.9"/>
<line x1="402.86" y1="742.90" x2="405.86" y2="742.90" stroke="#222" stroke-width="0.9"/>
<rect x="400.69" y="699.40" width="7.34" height="37.10" fill="#A0C8EB" fill-opacity="0.85" stroke="#2a2a2a" stroke-width="0.75"/>
<line x1="404.36" y1="699.40" x2="404.36" y2="736.50" stroke="#3a3a3a" stroke-width="0.6400000000000001" opacity="0.75"/>
<line x1="400.69" y1="730.60" x2="408.03" y2="730.60" stroke="#1a1a1a" stroke-width="0.9"/>
<line x1="412.40" y1="705.90" x2="412.40" y2="726.30" stroke="#3a3a3a" stroke-width="0.8"/>
<line x1="410.90" y1="705.90" x2="413.90" y2="705.90" stroke="#222" stroke-width="0.9"/>
<line x1="410.90" y1="726.30" x2="413.90" y2="726.30" stroke="#222" stroke-width="0.9"/>
<rect x="408.73" y="707.20" width="7.34" height="10.20" fill="#F5F596" fill-opacity="0.85" stroke="#2a2a2a" stroke-width="0.75"/>
<line x1="412.40" y1="707.20" x2="412.40" y2="717.40" stroke="#3a3a3a" stroke-width="0.6400000000000001" opacity="0.75"/>
<line x1="408.73" y1="707.70" x2="416.07" y2="707.70" stroke="#1a1a1a" stroke-width="0.9"/>
<line x1="420.44" y1="680.70" x2="420.44" y2="715.30" stroke="#3a3a3a" stroke-width="0.8"/>
<line x1="418.94" y1="680.70" x2="421.94" y2="680.70" stroke="#222" stroke-width="0.9"/>
<line x1="418.94" y1="715.30" x2="421.94" y2="715.30" stroke="#222" stroke-width="0.9"/>
<rect x="416.77" y="687.40" width="7.34" height="17.00" fill="#AAE6A5" fill-opacity="0.85" stroke="#2a2a2a" stroke-width="0.75"/>
<line x1="420.44" y1="687.40" x2="420.44" y2="704.40" stroke="#3a3a3a" stroke-width="0.6400000000000001" opacity="0.75"/>
<line x1="416.77" y1="693.00" x2="424.11" y2="693.00" stroke="#1a1a1a" stroke-width="0.9"/>
<line x1="428.48" y1="702.30" x2="428.48" y2="738.30" stroke="#3a3a3a" stroke-width="0.8"/>
<line x1="426.98" y1="702.30" x2="429.98" y2="702.30" stroke="#222" stroke-width="0.9"/>
<line x1="426.98" y1="738.30" x2="429.98" y2="738.30" stroke="#222" stroke-width="0.9"/>
<rect x="424.81" y="713.50" width="7.34" height="18.90" fill="#D7D7D7" fill-opacity="0.85" stroke="#2a2a2a" stroke-width="0.75"/>
<line x1="428.48" y1="713.50" x2="428.48" y2="732.40" stroke="#3a3a3a" stroke-width="0.6400000000000001" opacity="0.75"/>
<line x1="424.81" y1="725.50" x2="432.15" y2="725.50" stroke="#1a1a1a" stroke-width="0.9"/>
<line x1="436.52" y1="739.30" x2="436.52" y2="760.00" stroke="#3a3a3a" stroke-width="0.8"/>
<line x1="435.02" y1="739.30" x2="438.02" y2="739.30" stroke="#222" stroke-width="0.9"/>
<line x1="435.02" y1="760.00" x2="438.02" y2="760.00" stroke="#222" stroke-width="0.9"/>
<rect x="432.85" y="748.90" width="7.34" height="10.80" fill="#F5BEE1" fill-opacity="0.85" stroke="#2a2a2a" stroke-width="0.75"/>
<line x1="436.52" y1="748.90" x2="436.52" y2="759.70" stroke="#3a3a3a" stroke-width="0.6400000000000001" opacity="0.75"/>
<line x1="432.85" y1="758.50" x2="440.19" y2="758.50" stroke="#1a1a1a" stroke-width="0.9"/>
<line x1="459.71" y1="684.40" x2="459.71" y2="716.20" stroke="#3a3a3a" stroke-width="0.8"/>
<line x1="458.21" y1="684.40" x2="461.21" y2="684.40" stroke="#222" stroke-width="0.9"/>
<line x1="458.21" y1="716.20" x2="461.21" y2="716.20" stroke="#222" stroke-width="0.9"/>
<rect x="456.04" y="693.30" width="7.34" height="15.90" fill="#E1AF8C" fill-opacity="0.85" stroke="#2a2a2a" stroke-width="0.75"/>
<line x1="459.71" y1="693.30" x2="459.71" y2="709.20" stroke="#3a3a3a" stroke-width="0.6400000000000001" opacity="0.75"/>
<line x1="456.04" y1="701.40" x2="463.38" y2="701.40" stroke="#1a1a1a" stroke-width="0.9"/>
<line x1="467.75" y1="669.40" x2="467.75" y2="703.20" stroke="#3a3a3a" stroke-width="0.8"/>
<line x1="466.25" y1="669.40" x2="469.25" y2="669.40" stroke="#222" stroke-width="0.9"/>
<line x1="466.25" y1="703.20" x2="469.25" y2="703.20" stroke="#222" stroke-width="0.9"/>
<rect x="464.08" y="675.00" width="7.34" height="16.80" fill="#FAC38C" fill-opacity="0.85" stroke="#2a2a2a" stroke-width="0.75"/>
<line x1="467.75" y1="675.00" x2="467.75" y2="691.80" stroke="#3a3a3a" stroke-width="0.6400000000000001" opacity="0.75"/>
<line x1="464.08" y1="680.20" x2="471.42" y2="680.20" stroke="#1a1a1a" stroke-width="0.9"/>
<line x1="475.79" y1="687.40" x2="475.79" y2="701.40" stroke="#3a3a3a" stroke-width="0.8"/>
<line x1="474.29" y1="687.40" x2="477.29" y2="687.40" stroke="#222" stroke-width="0.9"/>
<line x1="474.29" y1="701.40" x2="477.29" y2="701.40" stroke="#222" stroke-width="0.9"/>
<rect x="472.12" y="691.50" width="7.34" height="6.90" fill="#CDA5E1" fill-opacity="0.85" stroke="#2a2a2a" stroke-width="0.75"/>
<line x1="475.79" y1="691.50" x2="475.79" y2="698.40" stroke="#3a3a3a" stroke-width="0.6400000000000001" opacity="0.75"/>
<line x1="472.12" y1="695.20" x2="479.46" y2="695.20" stroke="#1a1a1a" stroke-width="0.9"/>
<line x1="483.83" y1="675.40" x2="483.83" y2="756.10" stroke="#3a3a3a" stroke-width="0.8"/>
<line x1="482.33" y1="675.40" x2="485.33" y2="675.40" stroke="#222" stroke-width="0.9"/>
<line x1="482.33" y1="756.10" x2="485.33" y2="756.10" stroke="#222" stroke-width="0.9"/>
<rect x="480.16" y="680.70" width="7.34" height="40.80" fill="#A0C8EB" fill-opacity="0.85" stroke="#2a2a2a" stroke-width="0.75"/>
<line x1="483.83" y1="680.70" x2="483.83" y2="721.50" stroke="#3a3a3a" stroke-width="0.6400000000000001" opacity="0.75"/>
<line x1="480.16" y1="686.20" x2="487.50" y2="686.20" stroke="#1a1a1a" stroke-width="0.9"/>
<line x1="491.87" y1="675.60" x2="491.87" y2="687.00" stroke="#3a3a3a" stroke-width="0.8"/>
<line x1="490.37" y1="675.60" x2="493.37" y2="675.60" stroke="#222" stroke-width="0.9"/>
<line x1="490.37" y1="687.00" x2="493.37" y2="687.00" stroke="#222" stroke-width="0.9"/>
<rect x="488.20" y="678.30" width="7.34" height="5.10" fill="#F5F596" fill-opacity="0.85" stroke="#2a2a2a" stroke-width="0.75"/>
<line x1="491.87" y1="678.30" x2="491.87" y2="683.40" stroke="#3a3a3a" stroke-width="0.6400000000000001" opacity="0.75"/>
<line x1="488.20" y1="681.00" x2="495.54" y2="681.00" stroke="#1a1a1a" stroke-width="0.9"/>
<line x1="499.91" y1="670.60" x2="499.91" y2="688.20" stroke="#3a3a3a" stroke-width="0.8"/>
<line x1="498.41" y1="670.60" x2="501.41" y2="670.60" stroke="#222" stroke-width="0.9"/>
<line x1="498.41" y1="688.20" x2="501.41" y2="688.20" stroke="#222" stroke-width="0.9"/>
<rect x="496.24" y="678.60" width="7.34" height="9.40" fill="#AAE6A5" fill-opacity="0.85" stroke="#2a2a2a" stroke-width="0.75"/>
<line x1="499.91" y1="678.60" x2="499.91" y2="688.00" stroke="#3a3a3a" stroke-width="0.6400000000000001" opacity="0.75"/>
<line x1="496.24" y1="687.40" x2="503.58" y2="687.40" stroke="#1a1a1a" stroke-width="0.9"/>
<line x1="507.95" y1="672.30" x2="507.95" y2="698.40" stroke="#3a3a3a" stroke-width="0.8"/>
<line x1="506.45" y1="672.30" x2="509.45" y2="672.30" stroke="#222" stroke-width="0.9"/>
<line x1="506.45" y1="698.40" x2="509.45" y2="698.40" stroke="#222" stroke-width="0.9"/>
<rect x="504.28" y="676.20" width="7.34" height="13.00" fill="#D7D7D7" fill-opacity="0.85" stroke="#2a2a2a" stroke-width="0.75"/>
<line x1="507.95" y1="676.20" x2="507.95" y2="689.20" stroke="#3a3a3a" stroke-width="0.6400000000000001" opacity="0.75"/>
<line x1="504.28" y1="680.40" x2="511.62" y2="680.40" stroke="#1a1a1a" stroke-width="0.9"/>
<line x1="515.99" y1="705.60" x2="515.99" y2="720.00" stroke="#3a3a3a" stroke-width="0.8"/>
<line x1="514.49" y1="705.60" x2="517.49" y2="705.60" stroke="#222" stroke-width="0.9"/>
<line x1="514.49" y1="720.00" x2="517.49" y2="720.00" stroke="#222" stroke-width="0.9"/>
<rect x="512.32" y="711.30" width="7.34" height="7.20" fill="#F5BEE1" fill-opacity="0.85" stroke="#2a2a2a" stroke-width="0.75"/>
<line x1="515.99" y1="711.30" x2="515.99" y2="718.50" stroke="#3a3a3a" stroke-width="0.6400000000000001" opacity="0.75"/>
<line x1="512.32" y1="716.50" x2="519.66" y2="716.50" stroke="#1a1a1a" stroke-width="0.9"/>
<line x1="539.18" y1="709.50" x2="539.18" y2="724.30" stroke="#3a3a3a" stroke-width="0.8"/>
<line x1="537.68" y1="709.50" x2="540.68" y2="709.50" stroke="#222" stroke-width="0.9"/>
<line x1="537.68" y1="724.30" x2="540.68" y2="724.30" stroke="#222" stroke-width="0.9"/>
<rect x="535.51" y="713.20" width="7.34" height="7.60" fill="#E1AF8C" fill-opacity="0.85" stroke="#2a2a2a" stroke-width="0.75"/>
<line x1="539.18" y1="713.20" x2="539.18" y2="720.80" stroke="#3a3a3a" stroke-width="0.6400000000000001" opacity="0.75"/>
<line x1="535.51" y1="717.20" x2="542.85" y2="717.20" stroke="#1a1a1a" stroke-width="0.9"/>
<line x1="547.22" y1="704.90" x2="547.22" y2="712.40" stroke="#3a3a3a" stroke-width="0.8"/>
<line x1="545.72" y1="704.90" x2="548.72" y2="704.90" stroke="#222" stroke-width="0.9"/>
<line x1="545.72" y1="712.40" x2="548.72" y2="712.40" stroke="#222" stroke-width="0.9"/>
<rect x="543.55" y="706.70" width="7.34" height="4.00" fill="#FAC38C" fill-opacity="0.85" stroke="#2a2a2a" stroke-width="0.75"/>
<line x1="547.22" y1="706.70" x2="547.22" y2="710.70" stroke="#3a3a3a" stroke-width="0.6400000000000001" opacity="0.75"/>
<line x1="543.55" y1="708.80" x2="550.89" y2="708.80" stroke="#1a1a1a" stroke-width="0.9"/>
<line x1="555.26" y1="710.30" x2="555.26" y2="716.30" stroke="#3a3a3a" stroke-width="0.8"/>
<line x1="553.76" y1="710.30" x2="556.76" y2="710.30" stroke="#222" stroke-width="0.9"/>
<line x1="553.76" y1="716.30" x2="556.76" y2="716.30" stroke="#222" stroke-width="0.9"/>
<rect x="551.59" y="711.40" width="7.34" height="3.50" fill="#CDA5E1" fill-opacity="0.85" stroke="#2a2a2a" stroke-width="0.75"/>
<line x1="555.26" y1="711.40" x2="555.26" y2="714.90" stroke="#3a3a3a" stroke-width="0.6400000000000001" opacity="0.75"/>
<line x1="551.59" y1="713.20" x2="558.93" y2="713.20" stroke="#1a1a1a" stroke-width="0.9"/>
<line x1="559.78" y1="733.00" x2="566.82" y2="733.00" stroke="#111" stroke-width="1.6"/>
<line x1="571.34" y1="690.40" x2="571.34" y2="714.30" stroke="#3a3a3a" stroke-width="0.8"/>
<line x1="569.84" y1="690.40" x2="572.84" y2="690.40" stroke="#222" stroke-width="0.9"/>
<line x1="569.84" y1="714.30" x2="572.84" y2="714.30" stroke="#222" stroke-width="0.9"/>
<rect x="567.67" y="696.10" width="7.34" height="12.40" fill="#F5F596" fill-opacity="0.85" stroke="#2a2a2a" stroke-width="0.75"/>
<line x1="571.34" y1="696.10" x2="571.34" y2="708.50" stroke="#3a3a3a" stroke-width="0.6400000000000001" opacity="0.75"/>
<line x1="567.67" y1="702.30" x2="575.01" y2="702.30" stroke="#1a1a1a" stroke-width="0.9"/>
<line x1="579.38" y1="730.00" x2="579.38" y2="759.30" stroke="#3a3a3a" stroke-width="0.8"/>
<line x1="577.88" y1="730.00" x2="580.88" y2="730.00" stroke="#222" stroke-width="0.9"/>
<line x1="577.88" y1="759.30" x2="580.88" y2="759.30" stroke="#222" stroke-width="0.9"/>
<rect x="575.71" y="737.20" width="7.34" height="14.40" fill="#AAE6A5" fill-opacity="0.85" stroke="#2a2a2a" stroke-width="0.75"/>
<line x1="579.38" y1="737.20" x2="579.38" y2="751.60" stroke="#3a3a3a" stroke-width="0.6400000000000001" opacity="0.75"/>
<line x1="575.71" y1="744.40" x2="583.05" y2="744.40" stroke="#1a1a1a" stroke-width="0.9"/>
<line x1="587.42" y1="712.40" x2="587.42" y2="728.30" stroke="#3a3a3a" stroke-width="0.8"/>
<line x1="585.92" y1="712.40" x2="588.92" y2="712.40" stroke="#222" stroke-width="0.9"/>
<line x1="585.92" y1="728.30" x2="588.92" y2="728.30" stroke="#222" stroke-width="0.9"/>
<rect x="583.75" y="716.50" width="7.34" height="8.20" fill="#D7D7D7" fill-opacity="0.85" stroke="#2a2a2a" stroke-width="0.75"/>
<line x1="587.42" y1="716.50" x2="587.42" y2="724.70" stroke="#3a3a3a" stroke-width="0.6400000000000001" opacity="0.75"/>
<line x1="583.75" y1="720.40" x2="591.09" y2="720.40" stroke="#1a1a1a" stroke-width="0.9"/>
<line x1="595.46" y1="763.30" x2="595.46" y2="793.90" stroke="#3a3a3a" stroke-width="0.8"/>
<line x1="593.96" y1="763.30" x2="596.96" y2="763.30" stroke="#222" stroke-width="0.9"/>
<line x1="593.96" y1="793.90" x2="596.96" y2="793.90" stroke="#222" stroke-width="0.9"/>
<rect x="591.79" y="770.50" width="7.34" height="16.20" fill="#F5BEE1" fill-opacity="0.85" stroke="#2a2a2a" stroke-width="0.75"/>
<line x1="595.46" y1="770.50" x2="595.46" y2="786.70" stroke="#3a3a3a" stroke-width="0.6400000000000001" opacity="0.75"/>
<line x1="591.79" y1="778.30" x2="599.13" y2="778.30" stroke="#1a1a1a" stroke-width="0.9"/>
<text x="624.80" y="268.80" font-size="9.3" text-anchor="start" font-weight="normal" fill="#1a1a1a" >Model</text>
<line x1="627.50" y1="271.30" x2="627.50" y2="277.10" stroke="#333" stroke-width="0.7"/>
<rect x="624.80" y="272.30" width="5.4" height="3.8" fill="#C86048" stroke="#333" stroke-width="0.6"/>
<line x1="624.80" y1="274.20" x2="630.20" y2="274.20" stroke="#333" stroke-width="0.6"/>
<text x="633.60" y="277.30" font-size="9.3" text-anchor="start" font-weight="normal" fill="#222" >LLaMa3</text>
<line x1="627.50" y1="279.25" x2="627.50" y2="285.05" stroke="#333" stroke-width="0.7"/>
<rect x="624.80" y="280.25" width="5.4" height="3.8" fill="#C8C878" stroke="#333" stroke-width="0.6"/>
<line x1="624.80" y1="282.15" x2="630.20" y2="282.15" stroke="#333" stroke-width="0.6"/>
<text x="633.60" y="285.25" font-size="9.3" text-anchor="start" font-weight="normal" fill="#222" >Geneformer</text>
<line x1="627.50" y1="287.20" x2="627.50" y2="293.00" stroke="#333" stroke-width="0.7"/>
<rect x="624.80" y="288.20" width="5.4" height="3.8" fill="#5878B8" stroke="#333" stroke-width="0.6"/>
<line x1="624.80" y1="290.10" x2="630.20" y2="290.10" stroke="#333" stroke-width="0.6"/>
<text x="633.60" y="293.20" font-size="9.3" text-anchor="start" font-weight="normal" fill="#222" >scFoundation</text>
<line x1="627.50" y1="295.15" x2="627.50" y2="300.95" stroke="#333" stroke-width="0.7"/>
<rect x="624.80" y="296.15" width="5.4" height="3.8" fill="#68B068" stroke="#333" stroke-width="0.6"/>
<line x1="624.80" y1="298.05" x2="630.20" y2="298.05" stroke="#333" stroke-width="0.6"/>
<text x="633.60" y="301.15" font-size="9.3" text-anchor="start" font-weight="normal" fill="#222" >CellLM</text>
<line x1="627.50" y1="303.10" x2="627.50" y2="308.90" stroke="#333" stroke-width="0.7"/>
<rect x="624.80" y="304.10" width="5.4" height="3.8" fill="#9870C0" stroke="#333" stroke-width="0.6"/>
<line x1="624.80" y1="306.00" x2="630.20" y2="306.00" stroke="#333" stroke-width="0.6"/>
<text x="633.60" y="309.10" font-size="9.3" text-anchor="start" font-weight="normal" fill="#222" >tGPT</text>
<line x1="627.50" y1="311.05" x2="627.50" y2="316.85" stroke="#333" stroke-width="0.7"/>
<rect x="624.80" y="312.05" width="5.4" height="3.8" fill="#D89048" stroke="#333" stroke-width="0.6"/>
<line x1="624.80" y1="313.95" x2="630.20" y2="313.95" stroke="#333" stroke-width="0.6"/>
<text x="633.60" y="317.05" font-size="9.3" text-anchor="start" font-weight="normal" fill="#222" >CellPLM</text>
<line x1="627.50" y1="319.00" x2="627.50" y2="324.80" stroke="#333" stroke-width="0.7"/>
<rect x="624.80" y="320.00" width="5.4" height="3.8" fill="#C08050" stroke="#333" stroke-width="0.6"/>
<line x1="624.80" y1="321.90" x2="630.20" y2="321.90" stroke="#333" stroke-width="0.6"/>
<text x="633.60" y="325.00" font-size="9.3" text-anchor="start" font-weight="normal" fill="#222" >UCE</text>
<line x1="627.50" y1="326.95" x2="627.50" y2="332.75" stroke="#333" stroke-width="0.7"/>
<rect x="624.80" y="327.95" width="5.4" height="3.8" fill="#D090C8" stroke="#333" stroke-width="0.6"/>
<line x1="624.80" y1="329.85" x2="630.20" y2="329.85" stroke="#333" stroke-width="0.6"/>
<text x="633.60" y="332.95" font-size="9.3" text-anchor="start" font-weight="normal" fill="#222" >scBert</text>
<line x1="627.50" y1="334.90" x2="627.50" y2="340.70" stroke="#333" stroke-width="0.7"/>
<rect x="624.80" y="335.90" width="5.4" height="3.8" fill="#909090" stroke="#333" stroke-width="0.6"/>
<line x1="624.80" y1="337.80" x2="630.20" y2="337.80" stroke="#333" stroke-width="0.6"/>
<text x="633.60" y="340.90" font-size="9.3" text-anchor="start" font-weight="normal" fill="#222" >scGPT</text>
<text x="623.00" y="701.20" font-size="9.3" text-anchor="start" font-weight="normal" fill="#1a1a1a" >Model</text>
<line x1="626.20" y1="704.30" x2="626.20" y2="710.70" stroke="#333" stroke-width="0.7"/>
<rect x="623.00" y="705.30" width="6.4" height="4.4" fill="#B88060" stroke="#333" stroke-width="0.6"/>
<line x1="623.00" y1="707.50" x2="629.40" y2="707.50" stroke="#333" stroke-width="0.6"/>
<text x="632.80" y="710.60" font-size="9.3" text-anchor="start" font-weight="normal" fill="#222" >UCE</text>
<line x1="626.20" y1="713.24" x2="626.20" y2="719.64" stroke="#333" stroke-width="0.7"/>
<rect x="623.00" y="714.24" width="6.4" height="4.4" fill="#D89858" stroke="#333" stroke-width="0.6"/>
<line x1="623.00" y1="716.44" x2="629.40" y2="716.44" stroke="#333" stroke-width="0.6"/>
<text x="632.80" y="719.54" font-size="9.3" text-anchor="start" font-weight="normal" fill="#222" >CellPLM</text>
<line x1="626.20" y1="722.18" x2="626.20" y2="728.58" stroke="#333" stroke-width="0.7"/>
<rect x="623.00" y="723.18" width="6.4" height="4.4" fill="#A078C0" stroke="#333" stroke-width="0.6"/>
<line x1="623.00" y1="725.38" x2="629.40" y2="725.38" stroke="#333" stroke-width="0.6"/>
<text x="632.80" y="728.48" font-size="9.3" text-anchor="start" font-weight="normal" fill="#222" >tGPT</text>
<line x1="626.20" y1="731.12" x2="626.20" y2="737.52" stroke="#333" stroke-width="0.7"/>
<rect x="623.00" y="732.12" width="6.4" height="4.4" fill="#6890C8" stroke="#333" stroke-width="0.6"/>
<line x1="623.00" y1="734.32" x2="629.40" y2="734.32" stroke="#333" stroke-width="0.6"/>
<text x="632.80" y="737.42" font-size="9.3" text-anchor="start" font-weight="normal" fill="#222" >scFoundation</text>
<line x1="626.20" y1="740.06" x2="626.20" y2="746.46" stroke="#333" stroke-width="0.7"/>
<rect x="623.00" y="741.06" width="6.4" height="4.4" fill="#D8D870" stroke="#333" stroke-width="0.6"/>
<line x1="623.00" y1="743.26" x2="629.40" y2="743.26" stroke="#333" stroke-width="0.6"/>
<text x="632.80" y="746.36" font-size="9.3" text-anchor="start" font-weight="normal" fill="#222" >Geneformer</text>
<line x1="626.20" y1="749.00" x2="626.20" y2="755.40" stroke="#333" stroke-width="0.7"/>
<rect x="623.00" y="750.00" width="6.4" height="4.4" fill="#70B070" stroke="#333" stroke-width="0.6"/>
<line x1="623.00" y1="752.20" x2="629.40" y2="752.20" stroke="#333" stroke-width="0.6"/>
<text x="632.80" y="755.30" font-size="9.3" text-anchor="start" font-weight="normal" fill="#222" >CellLM</text>
<line x1="626.20" y1="757.94" x2="626.20" y2="764.34" stroke="#333" stroke-width="0.7"/>
<rect x="623.00" y="758.94" width="6.4" height="4.4" fill="#989898" stroke="#333" stroke-width="0.6"/>
<line x1="623.00" y1="761.14" x2="629.40" y2="761.14" stroke="#333" stroke-width="0.6"/>
<text x="632.80" y="764.24" font-size="9.3" text-anchor="start" font-weight="normal" fill="#222" >scGPT</text>
<line x1="626.20" y1="766.88" x2="626.20" y2="773.28" stroke="#333" stroke-width="0.7"/>
<rect x="623.00" y="767.88" width="6.4" height="4.4" fill="#D090C8" stroke="#333" stroke-width="0.6"/>
<line x1="623.00" y1="770.08" x2="629.40" y2="770.08" stroke="#333" stroke-width="0.6"/>
<text x="632.80" y="773.18" font-size="9.3" text-anchor="start" font-weight="normal" fill="#222" >scBERT</text>
<g fill="none" stroke="#E6E7E8" stroke-width="1.25"><circle cx="120.2" cy="531.3" r="11.5"/><circle cx="120.2" cy="531.3" r="23"/><circle cx="120.2" cy="531.3" r="34.5"/><circle cx="120.2" cy="531.3" r="46"/><circle cx="120.2" cy="531.3" r="57.5"/><circle cx="120.2" cy="531.3" r="64.7"/><line x1="120.2" y1="531.3" x2="111.75" y2="467.15"/><line x1="120.2" y1="531.3" x2="159.59" y2="479.97"/><line x1="120.2" y1="531.3" x2="184.35" y2="522.85"/><line x1="120.2" y1="531.3" x2="171.53" y2="570.69"/><line x1="120.2" y1="531.3" x2="128.65" y2="595.45"/><line x1="120.2" y1="531.3" x2="80.81" y2="582.63"/><line x1="120.2" y1="531.3" x2="56.05" y2="539.75"/><line x1="120.2" y1="531.3" x2="68.87" y2="491.91"/></g>
<path d="M100.46,493.78 L93.15,479.88 A58.10,58.10 0 0 1 133.02,474.63 L129.56,489.95 A42.40,42.40 0 0 0 100.46,493.78 Z" fill="#7B78B3"/>
<path d="M106.74,505.72 L100.18,493.25 A43.00,43.00 0 0 1 129.69,489.36 L126.58,503.11 A28.90,28.90 0 0 0 106.74,505.72 Z" fill="#D14490"/>
<path d="M112.80,517.23 L106.46,505.19 A29.50,29.50 0 0 1 126.71,502.53 L123.71,515.79 A15.90,15.90 0 0 0 112.80,517.23 Z" fill="#C4682A"/>
<path d="M120.20,531.30 L112.52,516.70 A16.50,16.50 0 0 1 123.84,515.21 Z" fill="#47997A"/>
<path d="M128.86,503.41 L131.94,493.48 A39.60,39.60 0 0 1 153.69,510.17 L144.90,515.72 A29.20,29.20 0 0 0 128.86,503.41 Z" fill="#7B78B3"/>
<path d="M126.34,511.53 L129.04,502.84 A29.80,29.80 0 0 1 145.40,515.40 L137.71,520.25 A20.70,20.70 0 0 0 126.34,511.53 Z" fill="#D14490"/>
<path d="M123.82,519.65 L126.52,510.96 A21.30,21.30 0 0 1 138.21,519.93 L130.52,524.79 A12.20,12.20 0 0 0 123.82,519.65 Z" fill="#C4682A"/>
<path d="M120.20,531.30 L124.00,519.08 A12.80,12.80 0 0 1 131.03,524.47 Z" fill="#47997A"/>
<path d="M146.93,517.24 L159.85,510.44 A44.80,44.80 0 0 1 163.90,541.19 L149.66,537.97 A30.20,30.20 0 0 0 146.93,517.24 Z" fill="#7B78B3"/>
<path d="M137.37,522.27 L147.46,516.96 A30.80,30.80 0 0 1 150.24,538.10 L139.12,535.58 A19.40,19.40 0 0 0 137.37,522.27 Z" fill="#D14490"/>
<path d="M130.11,526.09 L137.90,521.99 A20.00,20.00 0 0 1 139.71,535.71 L131.12,533.77 A11.20,11.20 0 0 0 130.11,526.09 Z" fill="#C4682A"/>
<path d="M120.20,531.30 L130.64,525.81 A11.80,11.80 0 0 1 131.71,533.90 Z" fill="#47997A"/>
<path d="M153.24,541.56 L162.70,544.50 A44.50,44.50 0 0 1 143.95,568.93 L138.66,560.56 A34.60,34.60 0 0 0 153.24,541.56 Z" fill="#7B78B3"/>
<path d="M142.55,538.24 L153.82,541.74 A35.20,35.20 0 0 1 138.98,561.07 L132.69,551.09 A23.40,23.40 0 0 0 142.55,538.24 Z" fill="#D14490"/>
<path d="M133.86,535.54 L143.12,538.42 A24.00,24.00 0 0 1 133.01,551.60 L127.83,543.39 A14.30,14.30 0 0 0 133.86,535.54 Z" fill="#C4682A"/>
<path d="M120.20,531.30 L134.43,535.72 A14.90,14.90 0 0 1 128.15,543.90 Z" fill="#47997A"/>
<path d="M136.59,562.45 L142.64,573.96 A48.20,48.20 0 0 1 109.56,578.31 L112.43,565.63 A35.20,35.20 0 0 0 136.59,562.45 Z" fill="#7B78B3"/>
<path d="M131.61,552.98 L136.87,562.98 A35.80,35.80 0 0 1 112.30,566.22 L114.79,555.20 A24.50,24.50 0 0 0 131.61,552.98 Z" fill="#D14490"/>
<path d="M126.44,543.16 L131.89,553.51 A25.10,25.10 0 0 1 114.66,555.78 L117.24,544.37 A13.40,13.40 0 0 0 126.44,543.16 Z" fill="#C4682A"/>
<path d="M120.20,531.30 L126.72,543.69 A14.00,14.00 0 0 1 117.11,544.95 Z" fill="#47997A"/>
<path d="M108.96,567.50 L106.05,576.85 A47.70,47.70 0 0 1 79.86,556.75 L88.15,551.52 A37.90,37.90 0 0 0 108.96,567.50 Z" fill="#7B78B3"/>
<path d="M112.85,554.98 L108.78,568.07 A38.50,38.50 0 0 1 87.64,551.84 L99.23,544.53 A24.80,24.80 0 0 0 112.85,554.98 Z" fill="#D14490"/>
<path d="M116.49,543.24 L112.67,555.56 A25.40,25.40 0 0 1 98.72,544.85 L109.63,537.97 A12.50,12.50 0 0 0 116.49,543.24 Z" fill="#C4682A"/>
<path d="M120.20,531.30 L116.32,543.81 A13.10,13.10 0 0 1 109.12,538.29 Z" fill="#47997A"/>
<path d="M93.47,545.36 L82.50,551.14 A42.60,42.60 0 0 1 78.65,521.90 L90.74,524.63 A30.20,30.20 0 0 0 93.47,545.36 Z" fill="#7B78B3"/>
<path d="M101.88,540.94 L92.94,545.64 A30.80,30.80 0 0 1 90.16,524.50 L100.01,526.73 A20.70,20.70 0 0 0 101.88,540.94 Z" fill="#D14490"/>
<path d="M108.08,537.68 L101.35,541.22 A21.30,21.30 0 0 1 99.43,526.60 L106.84,528.28 A13.70,13.70 0 0 0 108.08,537.68 Z" fill="#C4682A"/>
<path d="M120.20,531.30 L107.54,537.96 A14.30,14.30 0 0 1 106.25,528.14 Z" fill="#47997A"/>
<path d="M87.35,521.10 L70.83,515.97 A51.70,51.70 0 0 1 92.61,487.58 L101.84,502.21 A34.40,34.40 0 0 0 87.35,521.10 Z" fill="#7B78B3"/>
<path d="M98.43,524.54 L86.77,520.92 A35.00,35.00 0 0 1 101.52,501.70 L108.03,512.02 A22.80,22.80 0 0 0 98.43,524.54 Z" fill="#D14490"/>
<path d="M106.45,527.03 L97.85,524.36 A23.40,23.40 0 0 1 107.71,511.51 L112.52,519.12 A14.40,14.40 0 0 0 106.45,527.03 Z" fill="#C4682A"/>
<path d="M120.20,531.30 L105.87,526.85 A15.00,15.00 0 0 1 112.20,518.61 Z" fill="#47997A"/>
<text x="117.20" y="445.90" font-size="9.3" text-anchor="middle" font-weight="normal" fill="#333" >Tissue</text>
<text x="117.00" y="467.70" font-size="9.3" text-anchor="middle" font-weight="normal" fill="#1a1a1a" >UCE</text>
<text x="170.10" y="482.20" font-size="9.3" text-anchor="middle" font-weight="normal" fill="#1a1a1a" >scBERT</text>
<text x="195.60" y="524.80" font-size="9.3" text-anchor="middle" font-weight="normal" fill="#1a1a1a" >CellPLM</text>
<text x="183.50" y="573.90" font-size="9.3" text-anchor="middle" font-weight="normal" fill="#1a1a1a" >Geneformer</text>
<text x="137.70" y="598.70" font-size="9.3" text-anchor="middle" font-weight="normal" fill="#1a1a1a" >CellLM</text>
<text x="92.00" y="586.30" font-size="9.3" text-anchor="middle" font-weight="normal" fill="#1a1a1a" >scFoundation</text>
<text x="61.00" y="542.00" font-size="9.3" text-anchor="middle" font-weight="normal" fill="#1a1a1a" >scGPT</text>
<text x="73.90" y="493.90" font-size="9.3" text-anchor="middle" font-weight="normal" fill="#1a1a1a" >tGPT</text>
<text x="51.25" y="476.95" font-size="9.3" text-anchor="end" font-weight="normal" fill="#333" >2.5</text>
<text x="51.25" y="488.00" font-size="9.3" text-anchor="end" font-weight="normal" fill="#333" >2.0</text>
<text x="51.25" y="499.40" font-size="9.3" text-anchor="end" font-weight="normal" fill="#333" >1.5</text>
<text x="51.25" y="510.60" font-size="9.3" text-anchor="end" font-weight="normal" fill="#333" >1.0</text>
<text x="51.25" y="521.90" font-size="9.3" text-anchor="end" font-weight="normal" fill="#333" >0.5</text>
<text x="51.25" y="533.20" font-size="9.3" text-anchor="end" font-weight="normal" fill="#333" >0.0</text>
<text x="34.50" y="533.20" font-size="9.3" text-anchor="middle" font-weight="normal" fill="#1a1a1a" transform="rotate(-90 34.5 530)">F1</text>
<g fill="none" stroke="#E6E7E8" stroke-width="1.25"><circle cx="347.7" cy="532.4" r="16.3"/><circle cx="347.7" cy="532.4" r="32.6"/><circle cx="347.7" cy="532.4" r="48.9"/><circle cx="347.7" cy="532.4" r="65.7"/><line x1="347.7" y1="532.4" x2="339.12" y2="467.26"/><line x1="347.7" y1="532.4" x2="387.70" y2="480.28"/><line x1="347.7" y1="532.4" x2="412.84" y2="523.82"/><line x1="347.7" y1="532.4" x2="399.82" y2="572.40"/><line x1="347.7" y1="532.4" x2="356.28" y2="597.54"/><line x1="347.7" y1="532.4" x2="307.70" y2="584.52"/><line x1="347.7" y1="532.4" x2="282.56" y2="540.98"/><line x1="347.7" y1="532.4" x2="295.58" y2="492.40"/></g>
<path d="M328.66,496.20 L320.51,480.72 A58.40,58.40 0 0 1 360.59,475.44 L356.73,492.51 A40.90,40.90 0 0 0 328.66,496.20 Z" fill="#4AAAD8"/>
<path d="M340.06,517.89 L328.38,495.67 A41.50,41.50 0 0 1 356.86,491.92 L351.32,516.40 A16.40,16.40 0 0 0 340.06,517.89 Z" fill="#D98C48"/>
<path d="M347.70,532.40 L339.78,517.36 A17.00,17.00 0 0 1 351.45,515.82 Z" fill="#B0444A"/>
<path d="M355.38,507.66 L360.60,490.86 A43.50,43.50 0 0 1 384.49,509.19 L369.60,518.58 A25.90,25.90 0 0 0 355.38,507.66 Z" fill="#4AAAD8"/>
<path d="M352.06,518.36 L355.56,507.09 A26.50,26.50 0 0 1 370.11,518.26 L360.13,524.56 A14.70,14.70 0 0 0 352.06,518.36 Z" fill="#D98C48"/>
<path d="M347.70,532.40 L352.24,517.79 A15.30,15.30 0 0 1 360.64,524.24 Z" fill="#B0444A"/>
<path d="M382.21,514.24 L397.17,506.37 A55.90,55.90 0 0 1 402.22,544.74 L385.74,541.01 A39.00,39.00 0 0 0 382.21,514.24 Z" fill="#4AAAD8"/>
<path d="M362.21,524.76 L382.75,513.96 A39.60,39.60 0 0 1 386.32,541.14 L363.70,536.02 A16.40,16.40 0 0 0 362.21,524.76 Z" fill="#D98C48"/>
<path d="M347.70,532.40 L362.74,524.48 A17.00,17.00 0 0 1 364.28,536.15 Z" fill="#B0444A"/>
<path d="M376.26,541.27 L391.15,545.89 A45.50,45.50 0 0 1 371.98,570.88 L363.66,557.69 A29.90,29.90 0 0 0 376.26,541.27 Z" fill="#4AAAD8"/>
<path d="M360.59,536.40 L376.83,541.44 A30.50,30.50 0 0 1 363.98,558.19 L354.90,543.82 A13.50,13.50 0 0 0 360.59,536.40 Z" fill="#D98C48"/>
<path d="M347.70,532.40 L361.17,536.58 A14.10,14.10 0 0 1 355.22,544.32 Z" fill="#B0444A"/>
<path d="M360.78,557.27 L368.47,571.87 A44.60,44.60 0 0 1 337.86,575.90 L341.50,559.81 A28.10,28.10 0 0 0 360.78,557.27 Z" fill="#4AAAD8"/>
<path d="M355.01,546.29 L361.06,557.80 A28.70,28.70 0 0 1 341.37,560.39 L344.24,547.71 A15.70,15.70 0 0 0 355.01,546.29 Z" fill="#D98C48"/>
<path d="M347.70,532.40 L355.29,546.83 A16.30,16.30 0 0 1 344.10,548.30 Z" fill="#B0444A"/>
<path d="M340.02,557.14 L334.47,574.99 A44.60,44.60 0 0 1 309.98,556.20 L325.80,546.22 A25.90,25.90 0 0 0 340.02,557.14 Z" fill="#4AAAD8"/>
<path d="M343.64,545.48 L339.84,557.71 A26.50,26.50 0 0 1 325.29,546.54 L336.11,539.71 A13.70,13.70 0 0 0 343.64,545.48 Z" fill="#D98C48"/>
<path d="M347.70,532.40 L343.46,546.06 A14.30,14.30 0 0 1 335.61,540.03 Z" fill="#B0444A"/>
<path d="M325.40,544.13 L311.24,551.58 A41.20,41.20 0 0 1 307.52,523.31 L323.12,526.84 A25.20,25.20 0 0 0 325.40,544.13 Z" fill="#4AAAD8"/>
<path d="M336.28,538.41 L324.87,544.41 A25.80,25.80 0 0 1 322.54,526.71 L335.12,529.55 A12.90,12.90 0 0 0 336.28,538.41 Z" fill="#D98C48"/>
<path d="M347.70,532.40 L335.75,538.69 A13.50,13.50 0 0 1 334.53,529.42 Z" fill="#B0444A"/>
<path d="M320.58,523.98 L304.92,519.11 A44.80,44.80 0 0 1 323.79,494.51 L332.55,508.38 A28.40,28.40 0 0 0 320.58,523.98 Z" fill="#4AAAD8"/>
<path d="M333.47,527.98 L320.00,523.80 A29.00,29.00 0 0 1 332.23,507.87 L339.75,519.80 A14.90,14.90 0 0 0 333.47,527.98 Z" fill="#D98C48"/>
<path d="M347.70,532.40 L332.90,527.80 A15.50,15.50 0 0 1 339.43,519.29 Z" fill="#B0444A"/>
<text x="343.80" y="446.40" font-size="9.3" text-anchor="middle" font-weight="normal" fill="#333" >Drug type</text>
<text x="344.30" y="468.50" font-size="9.3" text-anchor="middle" font-weight="normal" fill="#1a1a1a" >UCE</text>
<text x="397.00" y="482.60" font-size="9.3" text-anchor="middle" font-weight="normal" fill="#1a1a1a" >scBERT</text>
<text x="423.10" y="525.60" font-size="9.3" text-anchor="middle" font-weight="normal" fill="#1a1a1a" >CellPLM</text>
<text x="411.20" y="574.30" font-size="9.3" text-anchor="middle" font-weight="normal" fill="#1a1a1a" >Geneformer</text>
<text x="365.00" y="599.50" font-size="9.3" text-anchor="middle" font-weight="normal" fill="#1a1a1a" >CellLM</text>
<text x="319.30" y="587.10" font-size="9.3" text-anchor="middle" font-weight="normal" fill="#1a1a1a" >scFoundation</text>
<text x="287.90" y="543.10" font-size="9.3" text-anchor="middle" font-weight="normal" fill="#1a1a1a" >scGPT</text>
<text x="300.50" y="494.40" font-size="9.3" text-anchor="middle" font-weight="normal" fill="#1a1a1a" >tGPT</text>
<text x="279.70" y="485.30" font-size="9.3" text-anchor="end" font-weight="normal" fill="#333" >1.5</text>
<text x="279.70" y="501.40" font-size="9.3" text-anchor="end" font-weight="normal" fill="#333" >1.0</text>
<text x="279.70" y="518.20" font-size="9.3" text-anchor="end" font-weight="normal" fill="#333" >0.5</text>
<text x="279.70" y="534.00" font-size="9.3" text-anchor="end" font-weight="normal" fill="#333" >0.0</text>
<text x="261.90" y="534.00" font-size="9.3" text-anchor="middle" font-weight="normal" fill="#1a1a1a" transform="rotate(-90 261.9 530.8)">F1</text>
<g fill="none" stroke="#E6E7E8" stroke-width="1.25"><circle cx="582.1" cy="528.9" r="20.75"/><circle cx="582.1" cy="528.9" r="41.5"/><circle cx="582.1" cy="528.9" r="65.5"/><line x1="582.1" y1="528.9" x2="573.55" y2="463.96"/><line x1="582.1" y1="528.9" x2="621.97" y2="476.94"/><line x1="582.1" y1="528.9" x2="647.04" y2="520.35"/><line x1="582.1" y1="528.9" x2="634.06" y2="568.77"/><line x1="582.1" y1="528.9" x2="590.65" y2="593.84"/><line x1="582.1" y1="528.9" x2="542.23" y2="580.86"/><line x1="582.1" y1="528.9" x2="517.16" y2="537.45"/><line x1="582.1" y1="528.9" x2="530.14" y2="489.03"/></g>
<path d="M569.67,505.27 L554.95,477.31 A58.30,58.30 0 0 1 594.97,472.04 L587.99,502.86 A26.70,26.70 0 0 0 569.67,505.27 Z" fill="#E25C6A"/>
<path d="M582.10,528.90 L569.39,504.74 A27.30,27.30 0 0 1 588.13,502.27 Z" fill="#BDE9F7"/>
<path d="M589.78,504.16 L595.56,485.54 A45.40,45.40 0 0 1 620.50,504.67 L604.00,515.08 A25.90,25.90 0 0 0 589.78,504.16 Z" fill="#E25C6A"/>
<path d="M582.10,528.90 L589.96,503.59 A26.50,26.50 0 0 1 604.51,514.76 Z" fill="#BDE9F7"/>
<path d="M604.31,517.21 L619.80,509.06 A42.60,42.60 0 0 1 623.65,538.30 L606.58,534.44 A25.10,25.10 0 0 0 604.31,517.21 Z" fill="#E25C6A"/>
<path d="M582.10,528.90 L604.84,516.93 A25.70,25.70 0 0 1 607.17,534.57 Z" fill="#BDE9F7"/>
<path d="M605.88,536.28 L625.36,542.33 A45.30,45.30 0 0 1 606.27,567.21 L595.39,549.96 A24.90,24.90 0 0 0 605.88,536.28 Z" fill="#E25C6A"/>
<path d="M582.10,528.90 L606.45,536.46 A25.50,25.50 0 0 1 595.71,550.47 Z" fill="#BDE9F7"/>
<path d="M593.14,549.87 L604.73,571.91 A48.60,48.60 0 0 1 571.37,576.30 L576.87,552.02 A23.70,23.70 0 0 0 593.14,549.87 Z" fill="#E25C6A"/>
<path d="M582.10,528.90 L593.41,550.41 A24.30,24.30 0 0 1 576.74,552.60 Z" fill="#BDE9F7"/>
<path d="M575.16,551.25 L570.92,564.90 A37.70,37.70 0 0 1 550.22,549.02 L562.31,541.39 A23.40,23.40 0 0 0 575.16,551.25 Z" fill="#E25C6A"/>
<path d="M582.10,528.90 L574.98,551.82 A24.00,24.00 0 0 1 561.80,541.71 Z" fill="#BDE9F7"/>
<path d="M559.53,540.77 L542.90,549.53 A44.30,44.30 0 0 1 538.89,519.12 L557.23,523.27 A25.50,25.50 0 0 0 559.53,540.77 Z" fill="#E25C6A"/>
<path d="M582.10,528.90 L559.00,541.05 A26.10,26.10 0 0 1 556.64,523.14 Z" fill="#BDE9F7"/>
<path d="M556.89,521.07 L535.69,514.49 A48.60,48.60 0 0 1 556.17,487.80 L568.01,506.57 A26.40,26.40 0 0 0 556.89,521.07 Z" fill="#E25C6A"/>
<path d="M582.10,528.90 L556.31,520.89 A27.00,27.00 0 0 1 567.69,506.07 Z" fill="#BDE9F7"/>
<text x="583.00" y="447.90" font-size="9.3" text-anchor="middle" font-weight="normal" fill="#333" >Regimen</text>
<text x="578.80" y="465.90" font-size="9.3" text-anchor="middle" font-weight="normal" fill="#1a1a1a" >UCE</text>
<text x="631.70" y="479.00" font-size="9.3" text-anchor="middle" font-weight="normal" fill="#1a1a1a" >scBERT</text>
<text x="657.60" y="522.70" font-size="9.3" text-anchor="middle" font-weight="normal" fill="#1a1a1a" >CellPLM</text>
<text x="645.70" y="571.70" font-size="9.3" text-anchor="middle" font-weight="normal" fill="#1a1a1a" >Geneformer</text>
<text x="599.30" y="596.30" font-size="9.3" text-anchor="middle" font-weight="normal" fill="#1a1a1a" >CellLM</text>
<text x="553.80" y="584.20" font-size="9.3" text-anchor="middle" font-weight="normal" fill="#1a1a1a" >scFoundation</text>
<text x="523.10" y="539.80" font-size="9.3" text-anchor="middle" font-weight="normal" fill="#1a1a1a" >scGPT</text>
<text x="534.70" y="491.20" font-size="9.3" text-anchor="middle" font-weight="normal" fill="#1a1a1a" >tGPT</text>
<text x="515.40" y="486.10" font-size="9.3" text-anchor="end" font-weight="normal" fill="#333" >1.0</text>
<text x="515.40" y="506.70" font-size="9.3" text-anchor="end" font-weight="normal" fill="#333" >0.5</text>
<text x="515.40" y="527.30" font-size="9.3" text-anchor="end" font-weight="normal" fill="#333" >0.0</text>
<text x="499.00" y="526.70" font-size="9.3" text-anchor="middle" font-weight="normal" fill="#1a1a1a" transform="rotate(-90 499.0 523.5)">F1</text>
<text x="39.90" y="628.10" font-size="9.3" text-anchor="start" font-weight="normal" fill="#1a1a1a" >Tissue type</text>
<rect x="90.00" y="622.90" width="5" height="5" fill="#D14490"/>
<text x="96.50" y="628.10" font-size="9.3" text-anchor="start" font-weight="normal" fill="#1a1a1a" >Cell line</text>
<rect x="134.20" y="622.90" width="5" height="5" fill="#7B78B3"/>
<text x="140.70" y="628.10" font-size="9.3" text-anchor="start" font-weight="normal" fill="#1a1a1a" >Bone marrow</text>
<rect x="90.00" y="632.40" width="5" height="5" fill="#47997A"/>
<text x="97.00" y="637.60" font-size="9.3" text-anchor="start" font-weight="normal" fill="#1a1a1a" >Tumor tissue</text>
<rect x="151.60" y="632.40" width="5" height="5" fill="#C4682A"/>
<text x="158.00" y="637.60" font-size="9.3" text-anchor="start" font-weight="normal" fill="#1a1a1a" >PBMC</text>
<text x="265.30" y="629.20" font-size="9.3" text-anchor="start" font-weight="normal" fill="#1a1a1a" >Drug type</text>
<rect x="311.00" y="623.50" width="5" height="5" fill="#B0444A"/>
<text x="317.50" y="629.20" font-size="9.3" text-anchor="start" font-weight="normal" fill="#1a1a1a" >Targeted therapy</text>
<rect x="385.50" y="623.50" width="5" height="5" fill="#4AAAD8"/>
<text x="392.00" y="629.20" font-size="9.3" text-anchor="start" font-weight="normal" fill="#1a1a1a" >Chemotherapy</text>
<rect x="311.00" y="633.00" width="5" height="5" fill="#D98C48"/>
<text x="317.50" y="638.70" font-size="9.3" text-anchor="start" font-weight="normal" fill="#1a1a1a" >Immunotherapy</text>
<text x="512.20" y="631.60" font-size="9.3" text-anchor="start" font-weight="normal" fill="#1a1a1a" >Regimen type</text>
<rect x="569.10" y="625.90" width="5" height="5" fill="#BDE9F7"/>
<text x="576.80" y="631.60" font-size="9.3" text-anchor="start" font-weight="normal" fill="#1a1a1a" >Paclitaxel</text>
<rect x="617.20" y="625.90" width="5" height="5" fill="#E25C6A"/>
<text x="623.80" y="631.60" font-size="9.3" text-anchor="start" font-weight="normal" fill="#1a1a1a" >Ibrutinib</text></svg>
</body></html>
